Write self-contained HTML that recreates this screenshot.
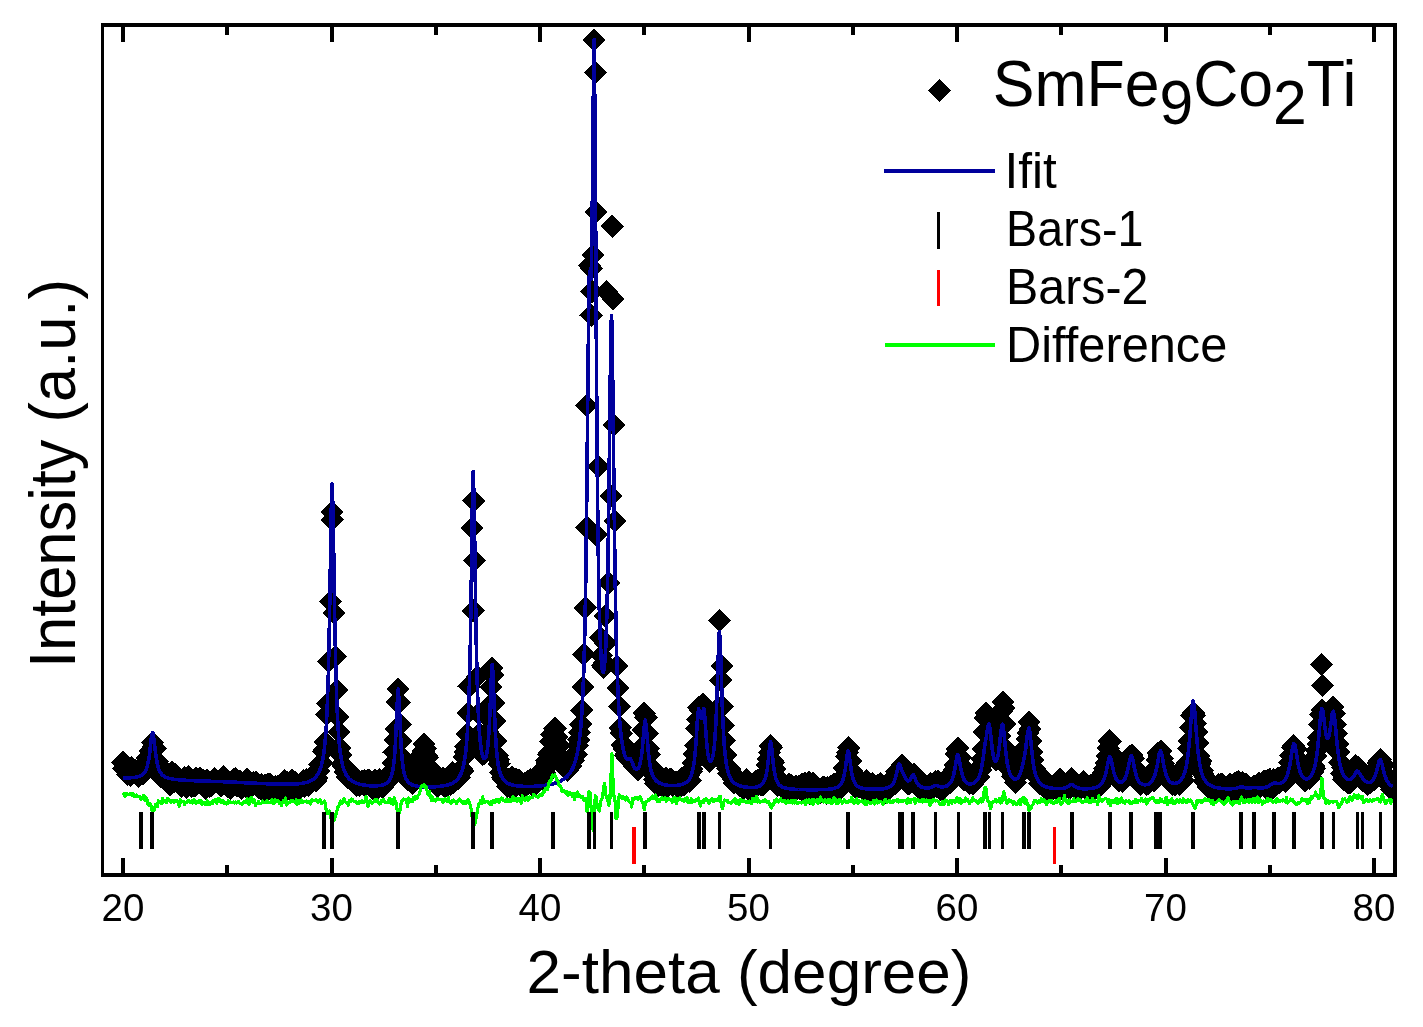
<!DOCTYPE html>
<html><head><meta charset="utf-8"><title>XRD</title>
<style>html,body{margin:0;padding:0;background:#fff;width:1423px;height:1027px;overflow:hidden}</style>
</head><body>
<svg width="1423" height="1027" viewBox="0 0 1423 1027" style="position:absolute;left:0;top:0;font-family:'Liberation Sans',sans-serif;will-change:transform" shape-rendering="crispEdges">
<rect width="1423" height="1027" fill="#fff"/>
<clipPath id="c"><rect x="104" y="27" width="1289" height="846"/></clipPath>
<path d="M123.0 750.9l11.6 11.6l-11.6 11.6l-11.6 -11.6zM124.0 757.0l11.6 11.6l-11.6 11.6l-11.6 -11.6zM125.1 755.3l11.6 11.6l-11.6 11.6l-11.6 -11.6zM126.1 757.0l11.6 11.6l-11.6 11.6l-11.6 -11.6zM127.2 762.9l11.6 11.6l-11.6 11.6l-11.6 -11.6zM128.2 757.9l11.6 11.6l-11.6 11.6l-11.6 -11.6zM129.3 759.2l11.6 11.6l-11.6 11.6l-11.6 -11.6zM130.3 764.0l11.6 11.6l-11.6 11.6l-11.6 -11.6zM131.3 756.1l11.6 11.6l-11.6 11.6l-11.6 -11.6zM132.4 756.9l11.6 11.6l-11.6 11.6l-11.6 -11.6zM133.4 761.0l11.6 11.6l-11.6 11.6l-11.6 -11.6zM134.5 759.6l11.6 11.6l-11.6 11.6l-11.6 -11.6zM135.5 759.4l11.6 11.6l-11.6 11.6l-11.6 -11.6zM136.6 760.0l11.6 11.6l-11.6 11.6l-11.6 -11.6zM137.6 761.9l11.6 11.6l-11.6 11.6l-11.6 -11.6zM138.6 764.8l11.6 11.6l-11.6 11.6l-11.6 -11.6zM139.7 756.4l11.6 11.6l-11.6 11.6l-11.6 -11.6zM140.7 759.3l11.6 11.6l-11.6 11.6l-11.6 -11.6zM141.8 760.2l11.6 11.6l-11.6 11.6l-11.6 -11.6zM142.8 762.3l11.6 11.6l-11.6 11.6l-11.6 -11.6zM143.9 752.2l11.6 11.6l-11.6 11.6l-11.6 -11.6zM144.9 755.6l11.6 11.6l-11.6 11.6l-11.6 -11.6zM145.9 756.5l11.6 11.6l-11.6 11.6l-11.6 -11.6zM147.0 746.4l11.6 11.6l-11.6 11.6l-11.6 -11.6zM148.0 749.8l11.6 11.6l-11.6 11.6l-11.6 -11.6zM149.1 749.8l11.6 11.6l-11.6 11.6l-11.6 -11.6zM150.1 739.2l11.6 11.6l-11.6 11.6l-11.6 -11.6zM151.1 740.8l11.6 11.6l-11.6 11.6l-11.6 -11.6zM152.2 730.9l11.6 11.6l-11.6 11.6l-11.6 -11.6zM153.2 735.6l11.6 11.6l-11.6 11.6l-11.6 -11.6zM154.3 736.9l11.6 11.6l-11.6 11.6l-11.6 -11.6zM155.3 737.1l11.6 11.6l-11.6 11.6l-11.6 -11.6zM156.4 752.1l11.6 11.6l-11.6 11.6l-11.6 -11.6zM157.4 749.9l11.6 11.6l-11.6 11.6l-11.6 -11.6zM158.4 760.4l11.6 11.6l-11.6 11.6l-11.6 -11.6zM159.5 759.4l11.6 11.6l-11.6 11.6l-11.6 -11.6zM160.5 764.6l11.6 11.6l-11.6 11.6l-11.6 -11.6zM161.6 756.4l11.6 11.6l-11.6 11.6l-11.6 -11.6zM162.6 757.3l11.6 11.6l-11.6 11.6l-11.6 -11.6zM163.7 765.1l11.6 11.6l-11.6 11.6l-11.6 -11.6zM164.7 762.1l11.6 11.6l-11.6 11.6l-11.6 -11.6zM165.7 765.3l11.6 11.6l-11.6 11.6l-11.6 -11.6zM166.8 763.2l11.6 11.6l-11.6 11.6l-11.6 -11.6zM167.8 768.6l11.6 11.6l-11.6 11.6l-11.6 -11.6zM168.9 771.9l11.6 11.6l-11.6 11.6l-11.6 -11.6zM169.9 773.2l11.6 11.6l-11.6 11.6l-11.6 -11.6zM171.0 766.3l11.6 11.6l-11.6 11.6l-11.6 -11.6zM172.0 760.8l11.6 11.6l-11.6 11.6l-11.6 -11.6zM173.0 768.2l11.6 11.6l-11.6 11.6l-11.6 -11.6zM174.1 770.6l11.6 11.6l-11.6 11.6l-11.6 -11.6zM175.1 762.9l11.6 11.6l-11.6 11.6l-11.6 -11.6zM176.2 769.3l11.6 11.6l-11.6 11.6l-11.6 -11.6zM177.2 769.5l11.6 11.6l-11.6 11.6l-11.6 -11.6zM178.3 768.9l11.6 11.6l-11.6 11.6l-11.6 -11.6zM179.3 770.9l11.6 11.6l-11.6 11.6l-11.6 -11.6zM180.3 771.1l11.6 11.6l-11.6 11.6l-11.6 -11.6zM181.4 774.6l11.6 11.6l-11.6 11.6l-11.6 -11.6zM182.4 768.4l11.6 11.6l-11.6 11.6l-11.6 -11.6zM183.5 771.0l11.6 11.6l-11.6 11.6l-11.6 -11.6zM184.5 766.4l11.6 11.6l-11.6 11.6l-11.6 -11.6zM185.6 771.5l11.6 11.6l-11.6 11.6l-11.6 -11.6zM186.6 775.8l11.6 11.6l-11.6 11.6l-11.6 -11.6zM187.6 770.6l11.6 11.6l-11.6 11.6l-11.6 -11.6zM188.7 765.3l11.6 11.6l-11.6 11.6l-11.6 -11.6zM189.7 771.8l11.6 11.6l-11.6 11.6l-11.6 -11.6zM190.8 773.9l11.6 11.6l-11.6 11.6l-11.6 -11.6zM191.8 774.8l11.6 11.6l-11.6 11.6l-11.6 -11.6zM192.8 774.4l11.6 11.6l-11.6 11.6l-11.6 -11.6zM193.9 771.9l11.6 11.6l-11.6 11.6l-11.6 -11.6zM194.9 774.5l11.6 11.6l-11.6 11.6l-11.6 -11.6zM196.0 766.7l11.6 11.6l-11.6 11.6l-11.6 -11.6zM197.0 772.0l11.6 11.6l-11.6 11.6l-11.6 -11.6zM198.1 771.0l11.6 11.6l-11.6 11.6l-11.6 -11.6zM199.1 767.0l11.6 11.6l-11.6 11.6l-11.6 -11.6zM200.1 766.3l11.6 11.6l-11.6 11.6l-11.6 -11.6zM201.2 771.9l11.6 11.6l-11.6 11.6l-11.6 -11.6zM202.2 770.0l11.6 11.6l-11.6 11.6l-11.6 -11.6zM203.3 768.9l11.6 11.6l-11.6 11.6l-11.6 -11.6zM204.3 772.1l11.6 11.6l-11.6 11.6l-11.6 -11.6zM205.4 777.2l11.6 11.6l-11.6 11.6l-11.6 -11.6zM206.4 769.1l11.6 11.6l-11.6 11.6l-11.6 -11.6zM207.4 768.8l11.6 11.6l-11.6 11.6l-11.6 -11.6zM208.5 770.4l11.6 11.6l-11.6 11.6l-11.6 -11.6zM209.5 774.4l11.6 11.6l-11.6 11.6l-11.6 -11.6zM210.6 772.2l11.6 11.6l-11.6 11.6l-11.6 -11.6zM211.6 773.6l11.6 11.6l-11.6 11.6l-11.6 -11.6zM212.7 772.7l11.6 11.6l-11.6 11.6l-11.6 -11.6zM213.7 767.7l11.6 11.6l-11.6 11.6l-11.6 -11.6zM214.7 767.0l11.6 11.6l-11.6 11.6l-11.6 -11.6zM215.8 769.6l11.6 11.6l-11.6 11.6l-11.6 -11.6zM216.8 770.2l11.6 11.6l-11.6 11.6l-11.6 -11.6zM217.9 769.8l11.6 11.6l-11.6 11.6l-11.6 -11.6zM218.9 771.9l11.6 11.6l-11.6 11.6l-11.6 -11.6zM220.0 772.1l11.6 11.6l-11.6 11.6l-11.6 -11.6zM221.0 773.9l11.6 11.6l-11.6 11.6l-11.6 -11.6zM222.0 772.2l11.6 11.6l-11.6 11.6l-11.6 -11.6zM223.1 765.0l11.6 11.6l-11.6 11.6l-11.6 -11.6zM224.1 769.4l11.6 11.6l-11.6 11.6l-11.6 -11.6zM225.2 773.0l11.6 11.6l-11.6 11.6l-11.6 -11.6zM226.2 773.7l11.6 11.6l-11.6 11.6l-11.6 -11.6zM227.3 774.8l11.6 11.6l-11.6 11.6l-11.6 -11.6zM228.3 771.1l11.6 11.6l-11.6 11.6l-11.6 -11.6zM229.3 771.0l11.6 11.6l-11.6 11.6l-11.6 -11.6zM230.4 776.7l11.6 11.6l-11.6 11.6l-11.6 -11.6zM231.4 771.0l11.6 11.6l-11.6 11.6l-11.6 -11.6zM232.5 774.2l11.6 11.6l-11.6 11.6l-11.6 -11.6zM233.5 768.2l11.6 11.6l-11.6 11.6l-11.6 -11.6zM234.5 772.0l11.6 11.6l-11.6 11.6l-11.6 -11.6zM235.6 767.3l11.6 11.6l-11.6 11.6l-11.6 -11.6zM236.6 774.1l11.6 11.6l-11.6 11.6l-11.6 -11.6zM237.7 773.6l11.6 11.6l-11.6 11.6l-11.6 -11.6zM238.7 771.8l11.6 11.6l-11.6 11.6l-11.6 -11.6zM239.8 769.5l11.6 11.6l-11.6 11.6l-11.6 -11.6zM240.8 771.0l11.6 11.6l-11.6 11.6l-11.6 -11.6zM241.8 776.8l11.6 11.6l-11.6 11.6l-11.6 -11.6zM242.9 772.4l11.6 11.6l-11.6 11.6l-11.6 -11.6zM243.9 772.9l11.6 11.6l-11.6 11.6l-11.6 -11.6zM245.0 774.4l11.6 11.6l-11.6 11.6l-11.6 -11.6zM246.0 775.1l11.6 11.6l-11.6 11.6l-11.6 -11.6zM247.1 767.8l11.6 11.6l-11.6 11.6l-11.6 -11.6zM248.1 774.5l11.6 11.6l-11.6 11.6l-11.6 -11.6zM249.1 775.9l11.6 11.6l-11.6 11.6l-11.6 -11.6zM250.2 771.3l11.6 11.6l-11.6 11.6l-11.6 -11.6zM251.2 773.0l11.6 11.6l-11.6 11.6l-11.6 -11.6zM252.3 773.6l11.6 11.6l-11.6 11.6l-11.6 -11.6zM253.3 771.0l11.6 11.6l-11.6 11.6l-11.6 -11.6zM254.4 772.0l11.6 11.6l-11.6 11.6l-11.6 -11.6zM255.4 772.4l11.6 11.6l-11.6 11.6l-11.6 -11.6zM256.4 770.6l11.6 11.6l-11.6 11.6l-11.6 -11.6zM257.5 772.8l11.6 11.6l-11.6 11.6l-11.6 -11.6zM258.5 775.6l11.6 11.6l-11.6 11.6l-11.6 -11.6zM259.6 774.9l11.6 11.6l-11.6 11.6l-11.6 -11.6zM260.6 775.5l11.6 11.6l-11.6 11.6l-11.6 -11.6zM261.7 773.2l11.6 11.6l-11.6 11.6l-11.6 -11.6zM262.7 777.2l11.6 11.6l-11.6 11.6l-11.6 -11.6zM263.7 779.5l11.6 11.6l-11.6 11.6l-11.6 -11.6zM264.8 773.7l11.6 11.6l-11.6 11.6l-11.6 -11.6zM265.8 778.2l11.6 11.6l-11.6 11.6l-11.6 -11.6zM266.9 779.7l11.6 11.6l-11.6 11.6l-11.6 -11.6zM267.9 772.9l11.6 11.6l-11.6 11.6l-11.6 -11.6zM269.0 776.4l11.6 11.6l-11.6 11.6l-11.6 -11.6zM270.0 772.6l11.6 11.6l-11.6 11.6l-11.6 -11.6zM271.0 775.8l11.6 11.6l-11.6 11.6l-11.6 -11.6zM272.1 777.7l11.6 11.6l-11.6 11.6l-11.6 -11.6zM273.1 778.1l11.6 11.6l-11.6 11.6l-11.6 -11.6zM274.2 775.9l11.6 11.6l-11.6 11.6l-11.6 -11.6zM275.2 775.2l11.6 11.6l-11.6 11.6l-11.6 -11.6zM276.2 776.9l11.6 11.6l-11.6 11.6l-11.6 -11.6zM277.3 775.2l11.6 11.6l-11.6 11.6l-11.6 -11.6zM278.3 779.2l11.6 11.6l-11.6 11.6l-11.6 -11.6zM279.4 774.4l11.6 11.6l-11.6 11.6l-11.6 -11.6zM280.4 780.0l11.6 11.6l-11.6 11.6l-11.6 -11.6zM281.5 775.1l11.6 11.6l-11.6 11.6l-11.6 -11.6zM282.5 772.3l11.6 11.6l-11.6 11.6l-11.6 -11.6zM283.5 771.1l11.6 11.6l-11.6 11.6l-11.6 -11.6zM284.6 769.2l11.6 11.6l-11.6 11.6l-11.6 -11.6zM285.6 779.3l11.6 11.6l-11.6 11.6l-11.6 -11.6zM286.7 772.2l11.6 11.6l-11.6 11.6l-11.6 -11.6zM287.7 770.8l11.6 11.6l-11.6 11.6l-11.6 -11.6zM288.8 771.5l11.6 11.6l-11.6 11.6l-11.6 -11.6zM289.8 777.4l11.6 11.6l-11.6 11.6l-11.6 -11.6zM290.8 773.2l11.6 11.6l-11.6 11.6l-11.6 -11.6zM291.9 768.7l11.6 11.6l-11.6 11.6l-11.6 -11.6zM292.9 779.1l11.6 11.6l-11.6 11.6l-11.6 -11.6zM294.0 772.9l11.6 11.6l-11.6 11.6l-11.6 -11.6zM295.0 770.9l11.6 11.6l-11.6 11.6l-11.6 -11.6zM296.1 776.4l11.6 11.6l-11.6 11.6l-11.6 -11.6zM297.1 772.4l11.6 11.6l-11.6 11.6l-11.6 -11.6zM298.1 777.4l11.6 11.6l-11.6 11.6l-11.6 -11.6zM299.2 776.3l11.6 11.6l-11.6 11.6l-11.6 -11.6zM300.2 776.0l11.6 11.6l-11.6 11.6l-11.6 -11.6zM301.3 772.5l11.6 11.6l-11.6 11.6l-11.6 -11.6zM302.3 773.0l11.6 11.6l-11.6 11.6l-11.6 -11.6zM303.4 769.4l11.6 11.6l-11.6 11.6l-11.6 -11.6zM304.4 774.9l11.6 11.6l-11.6 11.6l-11.6 -11.6zM305.4 771.9l11.6 11.6l-11.6 11.6l-11.6 -11.6zM306.5 768.1l11.6 11.6l-11.6 11.6l-11.6 -11.6zM307.5 768.8l11.6 11.6l-11.6 11.6l-11.6 -11.6zM308.6 774.1l11.6 11.6l-11.6 11.6l-11.6 -11.6zM309.6 767.3l11.6 11.6l-11.6 11.6l-11.6 -11.6zM310.7 770.2l11.6 11.6l-11.6 11.6l-11.6 -11.6zM311.7 766.7l11.6 11.6l-11.6 11.6l-11.6 -11.6zM312.7 766.2l11.6 11.6l-11.6 11.6l-11.6 -11.6zM313.8 762.4l11.6 11.6l-11.6 11.6l-11.6 -11.6zM314.8 764.6l11.6 11.6l-11.6 11.6l-11.6 -11.6zM315.9 769.5l11.6 11.6l-11.6 11.6l-11.6 -11.6zM316.9 766.8l11.6 11.6l-11.6 11.6l-11.6 -11.6zM317.9 758.7l11.6 11.6l-11.6 11.6l-11.6 -11.6zM319.0 759.7l11.6 11.6l-11.6 11.6l-11.6 -11.6zM320.0 752.9l11.6 11.6l-11.6 11.6l-11.6 -11.6zM321.1 752.3l11.6 11.6l-11.6 11.6l-11.6 -11.6zM322.1 751.3l11.6 11.6l-11.6 11.6l-11.6 -11.6zM323.2 740.0l11.6 11.6l-11.6 11.6l-11.6 -11.6zM324.2 738.3l11.6 11.6l-11.6 11.6l-11.6 -11.6zM325.2 730.6l11.6 11.6l-11.6 11.6l-11.6 -11.6zM326.3 703.0l11.6 11.6l-11.6 11.6l-11.6 -11.6zM327.3 691.8l11.6 11.6l-11.6 11.6l-11.6 -11.6zM328.4 649.9l11.6 11.6l-11.6 11.6l-11.6 -11.6zM335.7 644.9l11.6 11.6l-11.6 11.6l-11.6 -11.6zM336.7 678.4l11.6 11.6l-11.6 11.6l-11.6 -11.6zM337.8 705.1l11.6 11.6l-11.6 11.6l-11.6 -11.6zM338.8 720.5l11.6 11.6l-11.6 11.6l-11.6 -11.6zM339.8 736.1l11.6 11.6l-11.6 11.6l-11.6 -11.6zM340.9 743.4l11.6 11.6l-11.6 11.6l-11.6 -11.6zM341.9 752.4l11.6 11.6l-11.6 11.6l-11.6 -11.6zM343.0 754.3l11.6 11.6l-11.6 11.6l-11.6 -11.6zM344.0 754.9l11.6 11.6l-11.6 11.6l-11.6 -11.6zM345.1 760.3l11.6 11.6l-11.6 11.6l-11.6 -11.6zM346.1 760.0l11.6 11.6l-11.6 11.6l-11.6 -11.6zM347.1 765.0l11.6 11.6l-11.6 11.6l-11.6 -11.6zM348.2 766.4l11.6 11.6l-11.6 11.6l-11.6 -11.6zM349.2 765.6l11.6 11.6l-11.6 11.6l-11.6 -11.6zM350.3 767.3l11.6 11.6l-11.6 11.6l-11.6 -11.6zM351.3 765.7l11.6 11.6l-11.6 11.6l-11.6 -11.6zM352.4 767.7l11.6 11.6l-11.6 11.6l-11.6 -11.6zM353.4 763.5l11.6 11.6l-11.6 11.6l-11.6 -11.6zM354.4 770.1l11.6 11.6l-11.6 11.6l-11.6 -11.6zM355.5 770.5l11.6 11.6l-11.6 11.6l-11.6 -11.6zM356.5 773.5l11.6 11.6l-11.6 11.6l-11.6 -11.6zM357.6 770.5l11.6 11.6l-11.6 11.6l-11.6 -11.6zM358.6 768.8l11.6 11.6l-11.6 11.6l-11.6 -11.6zM359.6 773.5l11.6 11.6l-11.6 11.6l-11.6 -11.6zM360.7 771.6l11.6 11.6l-11.6 11.6l-11.6 -11.6zM361.7 769.4l11.6 11.6l-11.6 11.6l-11.6 -11.6zM362.8 772.2l11.6 11.6l-11.6 11.6l-11.6 -11.6zM363.8 773.6l11.6 11.6l-11.6 11.6l-11.6 -11.6zM364.9 769.1l11.6 11.6l-11.6 11.6l-11.6 -11.6zM365.9 772.0l11.6 11.6l-11.6 11.6l-11.6 -11.6zM366.9 771.1l11.6 11.6l-11.6 11.6l-11.6 -11.6zM368.0 768.8l11.6 11.6l-11.6 11.6l-11.6 -11.6zM369.0 769.0l11.6 11.6l-11.6 11.6l-11.6 -11.6zM370.1 773.7l11.6 11.6l-11.6 11.6l-11.6 -11.6zM371.1 774.3l11.6 11.6l-11.6 11.6l-11.6 -11.6zM372.2 771.8l11.6 11.6l-11.6 11.6l-11.6 -11.6zM373.2 773.1l11.6 11.6l-11.6 11.6l-11.6 -11.6zM374.2 778.3l11.6 11.6l-11.6 11.6l-11.6 -11.6zM375.3 768.7l11.6 11.6l-11.6 11.6l-11.6 -11.6zM376.3 772.5l11.6 11.6l-11.6 11.6l-11.6 -11.6zM377.4 770.2l11.6 11.6l-11.6 11.6l-11.6 -11.6zM378.4 776.0l11.6 11.6l-11.6 11.6l-11.6 -11.6zM379.5 768.2l11.6 11.6l-11.6 11.6l-11.6 -11.6zM380.5 773.9l11.6 11.6l-11.6 11.6l-11.6 -11.6zM381.5 772.2l11.6 11.6l-11.6 11.6l-11.6 -11.6zM382.6 775.9l11.6 11.6l-11.6 11.6l-11.6 -11.6zM383.6 771.7l11.6 11.6l-11.6 11.6l-11.6 -11.6zM384.7 771.4l11.6 11.6l-11.6 11.6l-11.6 -11.6zM385.7 770.7l11.6 11.6l-11.6 11.6l-11.6 -11.6zM386.8 768.1l11.6 11.6l-11.6 11.6l-11.6 -11.6zM387.8 768.3l11.6 11.6l-11.6 11.6l-11.6 -11.6zM388.8 764.2l11.6 11.6l-11.6 11.6l-11.6 -11.6zM389.9 766.9l11.6 11.6l-11.6 11.6l-11.6 -11.6zM390.9 766.0l11.6 11.6l-11.6 11.6l-11.6 -11.6zM392.0 759.3l11.6 11.6l-11.6 11.6l-11.6 -11.6zM393.0 751.7l11.6 11.6l-11.6 11.6l-11.6 -11.6zM394.1 740.9l11.6 11.6l-11.6 11.6l-11.6 -11.6zM395.1 728.4l11.6 11.6l-11.6 11.6l-11.6 -11.6zM396.1 717.2l11.6 11.6l-11.6 11.6l-11.6 -11.6zM397.2 690.4l11.6 11.6l-11.6 11.6l-11.6 -11.6zM398.2 677.4l11.6 11.6l-11.6 11.6l-11.6 -11.6zM399.3 691.2l11.6 11.6l-11.6 11.6l-11.6 -11.6zM400.3 713.0l11.6 11.6l-11.6 11.6l-11.6 -11.6zM401.3 729.5l11.6 11.6l-11.6 11.6l-11.6 -11.6zM402.4 745.6l11.6 11.6l-11.6 11.6l-11.6 -11.6zM403.4 750.7l11.6 11.6l-11.6 11.6l-11.6 -11.6zM404.5 758.2l11.6 11.6l-11.6 11.6l-11.6 -11.6zM405.5 757.2l11.6 11.6l-11.6 11.6l-11.6 -11.6zM406.6 762.2l11.6 11.6l-11.6 11.6l-11.6 -11.6zM407.6 767.5l11.6 11.6l-11.6 11.6l-11.6 -11.6zM408.6 764.2l11.6 11.6l-11.6 11.6l-11.6 -11.6zM409.7 763.7l11.6 11.6l-11.6 11.6l-11.6 -11.6zM410.7 768.6l11.6 11.6l-11.6 11.6l-11.6 -11.6zM411.8 768.0l11.6 11.6l-11.6 11.6l-11.6 -11.6zM412.8 771.9l11.6 11.6l-11.6 11.6l-11.6 -11.6zM413.9 762.9l11.6 11.6l-11.6 11.6l-11.6 -11.6zM414.9 766.5l11.6 11.6l-11.6 11.6l-11.6 -11.6zM415.9 768.8l11.6 11.6l-11.6 11.6l-11.6 -11.6zM417.0 766.7l11.6 11.6l-11.6 11.6l-11.6 -11.6zM418.0 759.1l11.6 11.6l-11.6 11.6l-11.6 -11.6zM419.1 752.5l11.6 11.6l-11.6 11.6l-11.6 -11.6zM420.1 750.5l11.6 11.6l-11.6 11.6l-11.6 -11.6zM421.2 743.3l11.6 11.6l-11.6 11.6l-11.6 -11.6zM422.2 742.7l11.6 11.6l-11.6 11.6l-11.6 -11.6zM423.2 739.7l11.6 11.6l-11.6 11.6l-11.6 -11.6zM424.3 732.4l11.6 11.6l-11.6 11.6l-11.6 -11.6zM425.3 737.0l11.6 11.6l-11.6 11.6l-11.6 -11.6zM426.4 744.0l11.6 11.6l-11.6 11.6l-11.6 -11.6zM427.4 745.5l11.6 11.6l-11.6 11.6l-11.6 -11.6zM428.5 757.4l11.6 11.6l-11.6 11.6l-11.6 -11.6zM429.5 759.7l11.6 11.6l-11.6 11.6l-11.6 -11.6zM430.5 758.2l11.6 11.6l-11.6 11.6l-11.6 -11.6zM431.6 758.0l11.6 11.6l-11.6 11.6l-11.6 -11.6zM432.6 765.4l11.6 11.6l-11.6 11.6l-11.6 -11.6zM433.7 761.6l11.6 11.6l-11.6 11.6l-11.6 -11.6zM434.7 769.7l11.6 11.6l-11.6 11.6l-11.6 -11.6zM435.8 767.6l11.6 11.6l-11.6 11.6l-11.6 -11.6zM436.8 769.8l11.6 11.6l-11.6 11.6l-11.6 -11.6zM437.8 774.7l11.6 11.6l-11.6 11.6l-11.6 -11.6zM438.9 769.3l11.6 11.6l-11.6 11.6l-11.6 -11.6zM439.9 767.5l11.6 11.6l-11.6 11.6l-11.6 -11.6zM441.0 771.0l11.6 11.6l-11.6 11.6l-11.6 -11.6zM442.0 770.9l11.6 11.6l-11.6 11.6l-11.6 -11.6zM443.0 766.5l11.6 11.6l-11.6 11.6l-11.6 -11.6zM444.1 774.7l11.6 11.6l-11.6 11.6l-11.6 -11.6zM445.1 775.4l11.6 11.6l-11.6 11.6l-11.6 -11.6zM446.2 772.7l11.6 11.6l-11.6 11.6l-11.6 -11.6zM447.2 774.3l11.6 11.6l-11.6 11.6l-11.6 -11.6zM448.3 766.3l11.6 11.6l-11.6 11.6l-11.6 -11.6zM449.3 769.2l11.6 11.6l-11.6 11.6l-11.6 -11.6zM450.3 772.6l11.6 11.6l-11.6 11.6l-11.6 -11.6zM451.4 771.5l11.6 11.6l-11.6 11.6l-11.6 -11.6zM452.4 760.8l11.6 11.6l-11.6 11.6l-11.6 -11.6zM453.5 770.5l11.6 11.6l-11.6 11.6l-11.6 -11.6zM454.5 770.3l11.6 11.6l-11.6 11.6l-11.6 -11.6zM455.6 766.3l11.6 11.6l-11.6 11.6l-11.6 -11.6zM456.6 764.4l11.6 11.6l-11.6 11.6l-11.6 -11.6zM457.6 764.5l11.6 11.6l-11.6 11.6l-11.6 -11.6zM458.7 766.7l11.6 11.6l-11.6 11.6l-11.6 -11.6zM459.7 765.8l11.6 11.6l-11.6 11.6l-11.6 -11.6zM460.8 758.2l11.6 11.6l-11.6 11.6l-11.6 -11.6zM461.8 757.6l11.6 11.6l-11.6 11.6l-11.6 -11.6zM462.9 759.0l11.6 11.6l-11.6 11.6l-11.6 -11.6zM463.9 745.7l11.6 11.6l-11.6 11.6l-11.6 -11.6zM464.9 740.6l11.6 11.6l-11.6 11.6l-11.6 -11.6zM466.0 734.9l11.6 11.6l-11.6 11.6l-11.6 -11.6zM467.0 722.1l11.6 11.6l-11.6 11.6l-11.6 -11.6zM468.1 701.4l11.6 11.6l-11.6 11.6l-11.6 -11.6zM469.1 674.9l11.6 11.6l-11.6 11.6l-11.6 -11.6zM477.5 664.9l11.6 11.6l-11.6 11.6l-11.6 -11.6zM478.5 702.3l11.6 11.6l-11.6 11.6l-11.6 -11.6zM479.5 721.8l11.6 11.6l-11.6 11.6l-11.6 -11.6zM480.6 731.1l11.6 11.6l-11.6 11.6l-11.6 -11.6zM481.6 740.1l11.6 11.6l-11.6 11.6l-11.6 -11.6zM482.7 743.0l11.6 11.6l-11.6 11.6l-11.6 -11.6zM483.7 742.2l11.6 11.6l-11.6 11.6l-11.6 -11.6zM484.7 741.3l11.6 11.6l-11.6 11.6l-11.6 -11.6zM485.8 736.6l11.6 11.6l-11.6 11.6l-11.6 -11.6zM486.8 739.3l11.6 11.6l-11.6 11.6l-11.6 -11.6zM487.9 720.0l11.6 11.6l-11.6 11.6l-11.6 -11.6zM488.9 707.4l11.6 11.6l-11.6 11.6l-11.6 -11.6zM490.0 693.3l11.6 11.6l-11.6 11.6l-11.6 -11.6zM491.0 675.3l11.6 11.6l-11.6 11.6l-11.6 -11.6zM492.0 656.5l11.6 11.6l-11.6 11.6l-11.6 -11.6zM493.1 663.2l11.6 11.6l-11.6 11.6l-11.6 -11.6zM494.1 691.3l11.6 11.6l-11.6 11.6l-11.6 -11.6zM495.2 709.6l11.6 11.6l-11.6 11.6l-11.6 -11.6zM496.2 729.3l11.6 11.6l-11.6 11.6l-11.6 -11.6zM497.3 743.9l11.6 11.6l-11.6 11.6l-11.6 -11.6zM498.3 747.9l11.6 11.6l-11.6 11.6l-11.6 -11.6zM499.3 752.3l11.6 11.6l-11.6 11.6l-11.6 -11.6zM500.4 760.8l11.6 11.6l-11.6 11.6l-11.6 -11.6zM501.4 761.4l11.6 11.6l-11.6 11.6l-11.6 -11.6zM502.5 766.2l11.6 11.6l-11.6 11.6l-11.6 -11.6zM503.5 768.1l11.6 11.6l-11.6 11.6l-11.6 -11.6zM504.6 766.7l11.6 11.6l-11.6 11.6l-11.6 -11.6zM505.6 766.2l11.6 11.6l-11.6 11.6l-11.6 -11.6zM506.6 770.4l11.6 11.6l-11.6 11.6l-11.6 -11.6zM507.7 774.8l11.6 11.6l-11.6 11.6l-11.6 -11.6zM508.7 767.9l11.6 11.6l-11.6 11.6l-11.6 -11.6zM509.8 775.1l11.6 11.6l-11.6 11.6l-11.6 -11.6zM510.8 770.1l11.6 11.6l-11.6 11.6l-11.6 -11.6zM511.9 765.2l11.6 11.6l-11.6 11.6l-11.6 -11.6zM512.9 771.0l11.6 11.6l-11.6 11.6l-11.6 -11.6zM513.9 774.8l11.6 11.6l-11.6 11.6l-11.6 -11.6zM515.0 775.8l11.6 11.6l-11.6 11.6l-11.6 -11.6zM516.0 767.8l11.6 11.6l-11.6 11.6l-11.6 -11.6zM517.1 771.6l11.6 11.6l-11.6 11.6l-11.6 -11.6zM518.1 769.9l11.6 11.6l-11.6 11.6l-11.6 -11.6zM519.2 768.7l11.6 11.6l-11.6 11.6l-11.6 -11.6zM520.2 771.8l11.6 11.6l-11.6 11.6l-11.6 -11.6zM521.2 772.5l11.6 11.6l-11.6 11.6l-11.6 -11.6zM522.3 774.5l11.6 11.6l-11.6 11.6l-11.6 -11.6zM523.3 777.1l11.6 11.6l-11.6 11.6l-11.6 -11.6zM524.4 776.1l11.6 11.6l-11.6 11.6l-11.6 -11.6zM525.4 771.5l11.6 11.6l-11.6 11.6l-11.6 -11.6zM526.4 771.7l11.6 11.6l-11.6 11.6l-11.6 -11.6zM527.5 769.8l11.6 11.6l-11.6 11.6l-11.6 -11.6zM528.5 771.2l11.6 11.6l-11.6 11.6l-11.6 -11.6zM529.6 770.1l11.6 11.6l-11.6 11.6l-11.6 -11.6zM530.6 767.9l11.6 11.6l-11.6 11.6l-11.6 -11.6zM531.7 772.8l11.6 11.6l-11.6 11.6l-11.6 -11.6zM532.7 770.6l11.6 11.6l-11.6 11.6l-11.6 -11.6zM533.7 774.3l11.6 11.6l-11.6 11.6l-11.6 -11.6zM534.8 765.8l11.6 11.6l-11.6 11.6l-11.6 -11.6zM535.8 768.2l11.6 11.6l-11.6 11.6l-11.6 -11.6zM536.9 766.2l11.6 11.6l-11.6 11.6l-11.6 -11.6zM537.9 762.2l11.6 11.6l-11.6 11.6l-11.6 -11.6zM539.0 762.8l11.6 11.6l-11.6 11.6l-11.6 -11.6zM540.0 765.4l11.6 11.6l-11.6 11.6l-11.6 -11.6zM541.0 761.6l11.6 11.6l-11.6 11.6l-11.6 -11.6zM542.1 767.0l11.6 11.6l-11.6 11.6l-11.6 -11.6zM543.1 759.6l11.6 11.6l-11.6 11.6l-11.6 -11.6zM544.2 758.4l11.6 11.6l-11.6 11.6l-11.6 -11.6zM545.2 761.4l11.6 11.6l-11.6 11.6l-11.6 -11.6zM546.3 749.1l11.6 11.6l-11.6 11.6l-11.6 -11.6zM547.3 751.7l11.6 11.6l-11.6 11.6l-11.6 -11.6zM548.3 742.8l11.6 11.6l-11.6 11.6l-11.6 -11.6zM549.4 740.8l11.6 11.6l-11.6 11.6l-11.6 -11.6zM550.4 730.2l11.6 11.6l-11.6 11.6l-11.6 -11.6zM551.5 722.8l11.6 11.6l-11.6 11.6l-11.6 -11.6zM552.5 723.7l11.6 11.6l-11.6 11.6l-11.6 -11.6zM553.6 722.1l11.6 11.6l-11.6 11.6l-11.6 -11.6zM554.6 717.2l11.6 11.6l-11.6 11.6l-11.6 -11.6zM555.6 716.7l11.6 11.6l-11.6 11.6l-11.6 -11.6zM556.7 725.3l11.6 11.6l-11.6 11.6l-11.6 -11.6zM557.7 731.9l11.6 11.6l-11.6 11.6l-11.6 -11.6zM558.8 734.1l11.6 11.6l-11.6 11.6l-11.6 -11.6zM559.8 746.1l11.6 11.6l-11.6 11.6l-11.6 -11.6zM560.9 746.7l11.6 11.6l-11.6 11.6l-11.6 -11.6zM561.9 752.1l11.6 11.6l-11.6 11.6l-11.6 -11.6zM562.9 749.3l11.6 11.6l-11.6 11.6l-11.6 -11.6zM564.0 754.2l11.6 11.6l-11.6 11.6l-11.6 -11.6zM565.0 756.6l11.6 11.6l-11.6 11.6l-11.6 -11.6zM566.1 755.0l11.6 11.6l-11.6 11.6l-11.6 -11.6zM567.1 758.9l11.6 11.6l-11.6 11.6l-11.6 -11.6zM568.1 754.3l11.6 11.6l-11.6 11.6l-11.6 -11.6zM569.2 756.1l11.6 11.6l-11.6 11.6l-11.6 -11.6zM570.2 754.4l11.6 11.6l-11.6 11.6l-11.6 -11.6zM571.3 754.5l11.6 11.6l-11.6 11.6l-11.6 -11.6zM572.3 748.0l11.6 11.6l-11.6 11.6l-11.6 -11.6zM573.4 749.3l11.6 11.6l-11.6 11.6l-11.6 -11.6zM574.4 745.0l11.6 11.6l-11.6 11.6l-11.6 -11.6zM575.4 742.3l11.6 11.6l-11.6 11.6l-11.6 -11.6zM576.5 742.6l11.6 11.6l-11.6 11.6l-11.6 -11.6zM577.5 733.6l11.6 11.6l-11.6 11.6l-11.6 -11.6zM578.6 728.3l11.6 11.6l-11.6 11.6l-11.6 -11.6zM579.6 720.7l11.6 11.6l-11.6 11.6l-11.6 -11.6zM580.7 712.6l11.6 11.6l-11.6 11.6l-11.6 -11.6zM581.7 698.7l11.6 11.6l-11.6 11.6l-11.6 -11.6zM582.7 675.4l11.6 11.6l-11.6 11.6l-11.6 -11.6zM583.8 642.7l11.6 11.6l-11.6 11.6l-11.6 -11.6zM600.5 625.9l11.6 11.6l-11.6 11.6l-11.6 -11.6zM601.5 643.8l11.6 11.6l-11.6 11.6l-11.6 -11.6zM602.6 653.9l11.6 11.6l-11.6 11.6l-11.6 -11.6zM603.6 655.6l11.6 11.6l-11.6 11.6l-11.6 -11.6zM604.6 650.9l11.6 11.6l-11.6 11.6l-11.6 -11.6zM605.7 631.7l11.6 11.6l-11.6 11.6l-11.6 -11.6zM617.1 654.5l11.6 11.6l-11.6 11.6l-11.6 -11.6zM618.2 676.4l11.6 11.6l-11.6 11.6l-11.6 -11.6zM619.2 695.0l11.6 11.6l-11.6 11.6l-11.6 -11.6zM620.3 716.3l11.6 11.6l-11.6 11.6l-11.6 -11.6zM621.3 721.6l11.6 11.6l-11.6 11.6l-11.6 -11.6zM622.4 733.6l11.6 11.6l-11.6 11.6l-11.6 -11.6zM623.4 732.9l11.6 11.6l-11.6 11.6l-11.6 -11.6zM624.4 737.6l11.6 11.6l-11.6 11.6l-11.6 -11.6zM625.5 744.0l11.6 11.6l-11.6 11.6l-11.6 -11.6zM626.5 742.0l11.6 11.6l-11.6 11.6l-11.6 -11.6zM627.6 747.3l11.6 11.6l-11.6 11.6l-11.6 -11.6zM628.6 747.9l11.6 11.6l-11.6 11.6l-11.6 -11.6zM629.7 747.6l11.6 11.6l-11.6 11.6l-11.6 -11.6zM630.7 746.8l11.6 11.6l-11.6 11.6l-11.6 -11.6zM631.7 749.0l11.6 11.6l-11.6 11.6l-11.6 -11.6zM632.8 749.9l11.6 11.6l-11.6 11.6l-11.6 -11.6zM633.8 754.6l11.6 11.6l-11.6 11.6l-11.6 -11.6zM634.9 752.0l11.6 11.6l-11.6 11.6l-11.6 -11.6zM635.9 752.0l11.6 11.6l-11.6 11.6l-11.6 -11.6zM637.0 756.7l11.6 11.6l-11.6 11.6l-11.6 -11.6zM638.0 758.5l11.6 11.6l-11.6 11.6l-11.6 -11.6zM639.0 749.5l11.6 11.6l-11.6 11.6l-11.6 -11.6zM640.1 744.3l11.6 11.6l-11.6 11.6l-11.6 -11.6zM641.1 741.9l11.6 11.6l-11.6 11.6l-11.6 -11.6zM642.2 735.8l11.6 11.6l-11.6 11.6l-11.6 -11.6zM643.2 718.5l11.6 11.6l-11.6 11.6l-11.6 -11.6zM644.3 701.7l11.6 11.6l-11.6 11.6l-11.6 -11.6zM645.3 705.9l11.6 11.6l-11.6 11.6l-11.6 -11.6zM646.3 705.7l11.6 11.6l-11.6 11.6l-11.6 -11.6zM647.4 721.9l11.6 11.6l-11.6 11.6l-11.6 -11.6zM648.4 737.0l11.6 11.6l-11.6 11.6l-11.6 -11.6zM649.5 743.2l11.6 11.6l-11.6 11.6l-11.6 -11.6zM650.5 756.2l11.6 11.6l-11.6 11.6l-11.6 -11.6zM651.5 756.3l11.6 11.6l-11.6 11.6l-11.6 -11.6zM652.6 756.8l11.6 11.6l-11.6 11.6l-11.6 -11.6zM653.6 762.8l11.6 11.6l-11.6 11.6l-11.6 -11.6zM654.7 768.0l11.6 11.6l-11.6 11.6l-11.6 -11.6zM655.7 772.2l11.6 11.6l-11.6 11.6l-11.6 -11.6zM656.8 771.7l11.6 11.6l-11.6 11.6l-11.6 -11.6zM657.8 774.2l11.6 11.6l-11.6 11.6l-11.6 -11.6zM658.8 764.4l11.6 11.6l-11.6 11.6l-11.6 -11.6zM659.9 770.7l11.6 11.6l-11.6 11.6l-11.6 -11.6zM660.9 773.6l11.6 11.6l-11.6 11.6l-11.6 -11.6zM662.0 774.8l11.6 11.6l-11.6 11.6l-11.6 -11.6zM663.0 774.4l11.6 11.6l-11.6 11.6l-11.6 -11.6zM664.1 772.4l11.6 11.6l-11.6 11.6l-11.6 -11.6zM665.1 775.6l11.6 11.6l-11.6 11.6l-11.6 -11.6zM666.1 766.6l11.6 11.6l-11.6 11.6l-11.6 -11.6zM667.2 774.3l11.6 11.6l-11.6 11.6l-11.6 -11.6zM668.2 774.5l11.6 11.6l-11.6 11.6l-11.6 -11.6zM669.3 771.2l11.6 11.6l-11.6 11.6l-11.6 -11.6zM670.3 767.7l11.6 11.6l-11.6 11.6l-11.6 -11.6zM671.4 768.2l11.6 11.6l-11.6 11.6l-11.6 -11.6zM672.4 773.8l11.6 11.6l-11.6 11.6l-11.6 -11.6zM673.4 771.5l11.6 11.6l-11.6 11.6l-11.6 -11.6zM674.5 771.8l11.6 11.6l-11.6 11.6l-11.6 -11.6zM675.5 770.6l11.6 11.6l-11.6 11.6l-11.6 -11.6zM676.6 771.3l11.6 11.6l-11.6 11.6l-11.6 -11.6zM677.6 774.9l11.6 11.6l-11.6 11.6l-11.6 -11.6zM678.7 775.8l11.6 11.6l-11.6 11.6l-11.6 -11.6zM679.7 771.1l11.6 11.6l-11.6 11.6l-11.6 -11.6zM680.7 775.1l11.6 11.6l-11.6 11.6l-11.6 -11.6zM681.8 766.9l11.6 11.6l-11.6 11.6l-11.6 -11.6zM682.8 770.6l11.6 11.6l-11.6 11.6l-11.6 -11.6zM683.9 773.4l11.6 11.6l-11.6 11.6l-11.6 -11.6zM684.9 770.7l11.6 11.6l-11.6 11.6l-11.6 -11.6zM686.0 770.5l11.6 11.6l-11.6 11.6l-11.6 -11.6zM687.0 768.5l11.6 11.6l-11.6 11.6l-11.6 -11.6zM688.0 764.0l11.6 11.6l-11.6 11.6l-11.6 -11.6zM689.1 769.9l11.6 11.6l-11.6 11.6l-11.6 -11.6zM690.1 769.1l11.6 11.6l-11.6 11.6l-11.6 -11.6zM691.2 759.7l11.6 11.6l-11.6 11.6l-11.6 -11.6zM692.2 757.6l11.6 11.6l-11.6 11.6l-11.6 -11.6zM693.2 751.3l11.6 11.6l-11.6 11.6l-11.6 -11.6zM694.3 742.7l11.6 11.6l-11.6 11.6l-11.6 -11.6zM695.3 733.8l11.6 11.6l-11.6 11.6l-11.6 -11.6zM696.4 716.9l11.6 11.6l-11.6 11.6l-11.6 -11.6zM697.4 708.1l11.6 11.6l-11.6 11.6l-11.6 -11.6zM698.5 695.7l11.6 11.6l-11.6 11.6l-11.6 -11.6zM699.5 696.2l11.6 11.6l-11.6 11.6l-11.6 -11.6zM700.5 698.8l11.6 11.6l-11.6 11.6l-11.6 -11.6zM701.6 693.9l11.6 11.6l-11.6 11.6l-11.6 -11.6zM702.6 692.6l11.6 11.6l-11.6 11.6l-11.6 -11.6zM703.7 700.7l11.6 11.6l-11.6 11.6l-11.6 -11.6zM704.7 705.7l11.6 11.6l-11.6 11.6l-11.6 -11.6zM705.8 713.4l11.6 11.6l-11.6 11.6l-11.6 -11.6zM706.8 723.5l11.6 11.6l-11.6 11.6l-11.6 -11.6zM707.8 738.5l11.6 11.6l-11.6 11.6l-11.6 -11.6zM708.9 743.1l11.6 11.6l-11.6 11.6l-11.6 -11.6zM709.9 749.9l11.6 11.6l-11.6 11.6l-11.6 -11.6zM711.0 738.3l11.6 11.6l-11.6 11.6l-11.6 -11.6zM712.0 742.9l11.6 11.6l-11.6 11.6l-11.6 -11.6zM713.1 737.2l11.6 11.6l-11.6 11.6l-11.6 -11.6zM714.1 730.1l11.6 11.6l-11.6 11.6l-11.6 -11.6zM715.1 716.4l11.6 11.6l-11.6 11.6l-11.6 -11.6zM716.2 698.1l11.6 11.6l-11.6 11.6l-11.6 -11.6zM722.4 694.6l11.6 11.6l-11.6 11.6l-11.6 -11.6zM723.5 714.2l11.6 11.6l-11.6 11.6l-11.6 -11.6zM724.5 728.8l11.6 11.6l-11.6 11.6l-11.6 -11.6zM725.6 743.4l11.6 11.6l-11.6 11.6l-11.6 -11.6zM726.6 753.7l11.6 11.6l-11.6 11.6l-11.6 -11.6zM727.7 757.1l11.6 11.6l-11.6 11.6l-11.6 -11.6zM728.7 762.1l11.6 11.6l-11.6 11.6l-11.6 -11.6zM729.7 757.5l11.6 11.6l-11.6 11.6l-11.6 -11.6zM730.8 762.7l11.6 11.6l-11.6 11.6l-11.6 -11.6zM731.8 763.3l11.6 11.6l-11.6 11.6l-11.6 -11.6zM732.9 767.5l11.6 11.6l-11.6 11.6l-11.6 -11.6zM733.9 771.3l11.6 11.6l-11.6 11.6l-11.6 -11.6zM734.9 766.8l11.6 11.6l-11.6 11.6l-11.6 -11.6zM736.0 766.0l11.6 11.6l-11.6 11.6l-11.6 -11.6zM737.0 769.9l11.6 11.6l-11.6 11.6l-11.6 -11.6zM738.1 772.3l11.6 11.6l-11.6 11.6l-11.6 -11.6zM739.1 769.3l11.6 11.6l-11.6 11.6l-11.6 -11.6zM740.2 774.1l11.6 11.6l-11.6 11.6l-11.6 -11.6zM741.2 770.9l11.6 11.6l-11.6 11.6l-11.6 -11.6zM742.2 775.7l11.6 11.6l-11.6 11.6l-11.6 -11.6zM743.3 776.8l11.6 11.6l-11.6 11.6l-11.6 -11.6zM744.3 772.2l11.6 11.6l-11.6 11.6l-11.6 -11.6zM745.4 773.1l11.6 11.6l-11.6 11.6l-11.6 -11.6zM746.4 768.3l11.6 11.6l-11.6 11.6l-11.6 -11.6zM747.5 775.2l11.6 11.6l-11.6 11.6l-11.6 -11.6zM748.5 774.4l11.6 11.6l-11.6 11.6l-11.6 -11.6zM749.5 778.0l11.6 11.6l-11.6 11.6l-11.6 -11.6zM750.6 780.1l11.6 11.6l-11.6 11.6l-11.6 -11.6zM751.6 780.1l11.6 11.6l-11.6 11.6l-11.6 -11.6zM752.7 773.1l11.6 11.6l-11.6 11.6l-11.6 -11.6zM753.7 778.1l11.6 11.6l-11.6 11.6l-11.6 -11.6zM754.8 770.9l11.6 11.6l-11.6 11.6l-11.6 -11.6zM755.8 769.8l11.6 11.6l-11.6 11.6l-11.6 -11.6zM756.8 774.9l11.6 11.6l-11.6 11.6l-11.6 -11.6zM757.9 768.6l11.6 11.6l-11.6 11.6l-11.6 -11.6zM758.9 772.7l11.6 11.6l-11.6 11.6l-11.6 -11.6zM760.0 769.5l11.6 11.6l-11.6 11.6l-11.6 -11.6zM761.0 773.0l11.6 11.6l-11.6 11.6l-11.6 -11.6zM762.1 768.4l11.6 11.6l-11.6 11.6l-11.6 -11.6zM763.1 773.0l11.6 11.6l-11.6 11.6l-11.6 -11.6zM764.1 766.3l11.6 11.6l-11.6 11.6l-11.6 -11.6zM765.2 766.9l11.6 11.6l-11.6 11.6l-11.6 -11.6zM766.2 761.8l11.6 11.6l-11.6 11.6l-11.6 -11.6zM767.3 753.5l11.6 11.6l-11.6 11.6l-11.6 -11.6zM768.3 747.3l11.6 11.6l-11.6 11.6l-11.6 -11.6zM769.4 740.7l11.6 11.6l-11.6 11.6l-11.6 -11.6zM770.4 734.4l11.6 11.6l-11.6 11.6l-11.6 -11.6zM771.4 735.9l11.6 11.6l-11.6 11.6l-11.6 -11.6zM772.5 749.1l11.6 11.6l-11.6 11.6l-11.6 -11.6zM773.5 751.0l11.6 11.6l-11.6 11.6l-11.6 -11.6zM774.6 757.4l11.6 11.6l-11.6 11.6l-11.6 -11.6zM775.6 766.7l11.6 11.6l-11.6 11.6l-11.6 -11.6zM776.6 766.5l11.6 11.6l-11.6 11.6l-11.6 -11.6zM777.7 774.0l11.6 11.6l-11.6 11.6l-11.6 -11.6zM778.7 767.0l11.6 11.6l-11.6 11.6l-11.6 -11.6zM779.8 773.3l11.6 11.6l-11.6 11.6l-11.6 -11.6zM780.8 773.6l11.6 11.6l-11.6 11.6l-11.6 -11.6zM781.9 770.3l11.6 11.6l-11.6 11.6l-11.6 -11.6zM782.9 774.9l11.6 11.6l-11.6 11.6l-11.6 -11.6zM783.9 773.0l11.6 11.6l-11.6 11.6l-11.6 -11.6zM785.0 778.4l11.6 11.6l-11.6 11.6l-11.6 -11.6zM786.0 777.2l11.6 11.6l-11.6 11.6l-11.6 -11.6zM787.1 779.9l11.6 11.6l-11.6 11.6l-11.6 -11.6zM788.1 776.4l11.6 11.6l-11.6 11.6l-11.6 -11.6zM789.2 772.7l11.6 11.6l-11.6 11.6l-11.6 -11.6zM790.2 775.4l11.6 11.6l-11.6 11.6l-11.6 -11.6zM791.2 773.4l11.6 11.6l-11.6 11.6l-11.6 -11.6zM792.3 779.4l11.6 11.6l-11.6 11.6l-11.6 -11.6zM793.3 779.1l11.6 11.6l-11.6 11.6l-11.6 -11.6zM794.4 777.9l11.6 11.6l-11.6 11.6l-11.6 -11.6zM795.4 774.7l11.6 11.6l-11.6 11.6l-11.6 -11.6zM796.5 775.4l11.6 11.6l-11.6 11.6l-11.6 -11.6zM797.5 776.6l11.6 11.6l-11.6 11.6l-11.6 -11.6zM798.5 774.7l11.6 11.6l-11.6 11.6l-11.6 -11.6zM799.6 777.1l11.6 11.6l-11.6 11.6l-11.6 -11.6zM800.6 776.8l11.6 11.6l-11.6 11.6l-11.6 -11.6zM801.7 772.7l11.6 11.6l-11.6 11.6l-11.6 -11.6zM802.7 778.6l11.6 11.6l-11.6 11.6l-11.6 -11.6zM803.8 776.2l11.6 11.6l-11.6 11.6l-11.6 -11.6zM804.8 771.8l11.6 11.6l-11.6 11.6l-11.6 -11.6zM805.8 776.5l11.6 11.6l-11.6 11.6l-11.6 -11.6zM806.9 774.6l11.6 11.6l-11.6 11.6l-11.6 -11.6zM807.9 778.7l11.6 11.6l-11.6 11.6l-11.6 -11.6zM809.0 770.8l11.6 11.6l-11.6 11.6l-11.6 -11.6zM810.0 782.4l11.6 11.6l-11.6 11.6l-11.6 -11.6zM811.1 780.4l11.6 11.6l-11.6 11.6l-11.6 -11.6zM812.1 780.1l11.6 11.6l-11.6 11.6l-11.6 -11.6zM813.1 771.8l11.6 11.6l-11.6 11.6l-11.6 -11.6zM814.2 775.8l11.6 11.6l-11.6 11.6l-11.6 -11.6zM815.2 777.7l11.6 11.6l-11.6 11.6l-11.6 -11.6zM816.3 780.8l11.6 11.6l-11.6 11.6l-11.6 -11.6zM817.3 775.7l11.6 11.6l-11.6 11.6l-11.6 -11.6zM818.3 776.4l11.6 11.6l-11.6 11.6l-11.6 -11.6zM819.4 778.9l11.6 11.6l-11.6 11.6l-11.6 -11.6zM820.4 781.4l11.6 11.6l-11.6 11.6l-11.6 -11.6zM821.5 780.1l11.6 11.6l-11.6 11.6l-11.6 -11.6zM822.5 776.0l11.6 11.6l-11.6 11.6l-11.6 -11.6zM823.6 775.7l11.6 11.6l-11.6 11.6l-11.6 -11.6zM824.6 776.4l11.6 11.6l-11.6 11.6l-11.6 -11.6zM825.6 777.0l11.6 11.6l-11.6 11.6l-11.6 -11.6zM826.7 781.9l11.6 11.6l-11.6 11.6l-11.6 -11.6zM827.7 776.2l11.6 11.6l-11.6 11.6l-11.6 -11.6zM828.8 779.5l11.6 11.6l-11.6 11.6l-11.6 -11.6zM829.8 776.0l11.6 11.6l-11.6 11.6l-11.6 -11.6zM830.9 774.6l11.6 11.6l-11.6 11.6l-11.6 -11.6zM831.9 778.0l11.6 11.6l-11.6 11.6l-11.6 -11.6zM832.9 778.8l11.6 11.6l-11.6 11.6l-11.6 -11.6zM834.0 772.3l11.6 11.6l-11.6 11.6l-11.6 -11.6zM835.0 774.0l11.6 11.6l-11.6 11.6l-11.6 -11.6zM836.1 776.7l11.6 11.6l-11.6 11.6l-11.6 -11.6zM837.1 779.8l11.6 11.6l-11.6 11.6l-11.6 -11.6zM838.2 773.7l11.6 11.6l-11.6 11.6l-11.6 -11.6zM839.2 770.8l11.6 11.6l-11.6 11.6l-11.6 -11.6zM840.2 768.1l11.6 11.6l-11.6 11.6l-11.6 -11.6zM841.3 772.0l11.6 11.6l-11.6 11.6l-11.6 -11.6zM842.3 769.6l11.6 11.6l-11.6 11.6l-11.6 -11.6zM843.4 765.6l11.6 11.6l-11.6 11.6l-11.6 -11.6zM844.4 756.6l11.6 11.6l-11.6 11.6l-11.6 -11.6zM845.5 756.1l11.6 11.6l-11.6 11.6l-11.6 -11.6zM846.5 744.8l11.6 11.6l-11.6 11.6l-11.6 -11.6zM847.5 740.8l11.6 11.6l-11.6 11.6l-11.6 -11.6zM848.6 736.3l11.6 11.6l-11.6 11.6l-11.6 -11.6zM849.6 747.7l11.6 11.6l-11.6 11.6l-11.6 -11.6zM850.7 749.7l11.6 11.6l-11.6 11.6l-11.6 -11.6zM851.7 759.5l11.6 11.6l-11.6 11.6l-11.6 -11.6zM852.8 764.0l11.6 11.6l-11.6 11.6l-11.6 -11.6zM853.8 765.4l11.6 11.6l-11.6 11.6l-11.6 -11.6zM854.8 766.0l11.6 11.6l-11.6 11.6l-11.6 -11.6zM855.9 776.5l11.6 11.6l-11.6 11.6l-11.6 -11.6zM856.9 769.4l11.6 11.6l-11.6 11.6l-11.6 -11.6zM858.0 771.7l11.6 11.6l-11.6 11.6l-11.6 -11.6zM859.0 775.0l11.6 11.6l-11.6 11.6l-11.6 -11.6zM860.0 770.2l11.6 11.6l-11.6 11.6l-11.6 -11.6zM861.1 774.4l11.6 11.6l-11.6 11.6l-11.6 -11.6zM862.1 771.3l11.6 11.6l-11.6 11.6l-11.6 -11.6zM863.2 777.4l11.6 11.6l-11.6 11.6l-11.6 -11.6zM864.2 778.4l11.6 11.6l-11.6 11.6l-11.6 -11.6zM865.3 772.1l11.6 11.6l-11.6 11.6l-11.6 -11.6zM866.3 769.3l11.6 11.6l-11.6 11.6l-11.6 -11.6zM867.3 774.2l11.6 11.6l-11.6 11.6l-11.6 -11.6zM868.4 773.5l11.6 11.6l-11.6 11.6l-11.6 -11.6zM869.4 777.8l11.6 11.6l-11.6 11.6l-11.6 -11.6zM870.5 780.4l11.6 11.6l-11.6 11.6l-11.6 -11.6zM871.5 777.1l11.6 11.6l-11.6 11.6l-11.6 -11.6zM872.6 771.8l11.6 11.6l-11.6 11.6l-11.6 -11.6zM873.6 782.0l11.6 11.6l-11.6 11.6l-11.6 -11.6zM874.6 778.0l11.6 11.6l-11.6 11.6l-11.6 -11.6zM875.7 782.0l11.6 11.6l-11.6 11.6l-11.6 -11.6zM876.7 776.1l11.6 11.6l-11.6 11.6l-11.6 -11.6zM877.8 773.7l11.6 11.6l-11.6 11.6l-11.6 -11.6zM878.8 780.2l11.6 11.6l-11.6 11.6l-11.6 -11.6zM879.9 777.6l11.6 11.6l-11.6 11.6l-11.6 -11.6zM880.9 772.1l11.6 11.6l-11.6 11.6l-11.6 -11.6zM881.9 776.4l11.6 11.6l-11.6 11.6l-11.6 -11.6zM883.0 779.9l11.6 11.6l-11.6 11.6l-11.6 -11.6zM884.0 780.0l11.6 11.6l-11.6 11.6l-11.6 -11.6zM885.1 781.4l11.6 11.6l-11.6 11.6l-11.6 -11.6zM886.1 773.2l11.6 11.6l-11.6 11.6l-11.6 -11.6zM887.2 777.6l11.6 11.6l-11.6 11.6l-11.6 -11.6zM888.2 771.8l11.6 11.6l-11.6 11.6l-11.6 -11.6zM889.2 771.9l11.6 11.6l-11.6 11.6l-11.6 -11.6zM890.3 776.1l11.6 11.6l-11.6 11.6l-11.6 -11.6zM891.3 775.0l11.6 11.6l-11.6 11.6l-11.6 -11.6zM892.4 769.9l11.6 11.6l-11.6 11.6l-11.6 -11.6zM893.4 770.5l11.6 11.6l-11.6 11.6l-11.6 -11.6zM894.5 768.1l11.6 11.6l-11.6 11.6l-11.6 -11.6zM895.5 771.4l11.6 11.6l-11.6 11.6l-11.6 -11.6zM896.5 760.2l11.6 11.6l-11.6 11.6l-11.6 -11.6zM897.6 762.4l11.6 11.6l-11.6 11.6l-11.6 -11.6zM898.6 763.0l11.6 11.6l-11.6 11.6l-11.6 -11.6zM899.7 758.9l11.6 11.6l-11.6 11.6l-11.6 -11.6zM900.7 756.8l11.6 11.6l-11.6 11.6l-11.6 -11.6zM901.7 753.5l11.6 11.6l-11.6 11.6l-11.6 -11.6zM902.8 763.1l11.6 11.6l-11.6 11.6l-11.6 -11.6zM903.8 767.8l11.6 11.6l-11.6 11.6l-11.6 -11.6zM904.9 758.9l11.6 11.6l-11.6 11.6l-11.6 -11.6zM905.9 766.7l11.6 11.6l-11.6 11.6l-11.6 -11.6zM907.0 769.3l11.6 11.6l-11.6 11.6l-11.6 -11.6zM908.0 772.5l11.6 11.6l-11.6 11.6l-11.6 -11.6zM909.0 772.3l11.6 11.6l-11.6 11.6l-11.6 -11.6zM910.1 764.0l11.6 11.6l-11.6 11.6l-11.6 -11.6zM911.1 768.5l11.6 11.6l-11.6 11.6l-11.6 -11.6zM912.2 768.6l11.6 11.6l-11.6 11.6l-11.6 -11.6zM913.2 768.4l11.6 11.6l-11.6 11.6l-11.6 -11.6zM914.3 762.6l11.6 11.6l-11.6 11.6l-11.6 -11.6zM915.3 770.6l11.6 11.6l-11.6 11.6l-11.6 -11.6zM916.3 768.4l11.6 11.6l-11.6 11.6l-11.6 -11.6zM917.4 771.0l11.6 11.6l-11.6 11.6l-11.6 -11.6zM918.4 772.2l11.6 11.6l-11.6 11.6l-11.6 -11.6zM919.5 776.4l11.6 11.6l-11.6 11.6l-11.6 -11.6zM920.5 772.2l11.6 11.6l-11.6 11.6l-11.6 -11.6zM921.6 769.7l11.6 11.6l-11.6 11.6l-11.6 -11.6zM922.6 775.1l11.6 11.6l-11.6 11.6l-11.6 -11.6zM923.6 777.9l11.6 11.6l-11.6 11.6l-11.6 -11.6zM924.7 779.2l11.6 11.6l-11.6 11.6l-11.6 -11.6zM925.7 774.7l11.6 11.6l-11.6 11.6l-11.6 -11.6zM926.8 776.1l11.6 11.6l-11.6 11.6l-11.6 -11.6zM927.8 775.5l11.6 11.6l-11.6 11.6l-11.6 -11.6zM928.9 775.0l11.6 11.6l-11.6 11.6l-11.6 -11.6zM929.9 779.4l11.6 11.6l-11.6 11.6l-11.6 -11.6zM930.9 772.1l11.6 11.6l-11.6 11.6l-11.6 -11.6zM932.0 773.4l11.6 11.6l-11.6 11.6l-11.6 -11.6zM933.0 773.9l11.6 11.6l-11.6 11.6l-11.6 -11.6zM934.1 772.5l11.6 11.6l-11.6 11.6l-11.6 -11.6zM935.1 770.0l11.6 11.6l-11.6 11.6l-11.6 -11.6zM936.2 772.6l11.6 11.6l-11.6 11.6l-11.6 -11.6zM937.2 775.6l11.6 11.6l-11.6 11.6l-11.6 -11.6zM938.2 769.6l11.6 11.6l-11.6 11.6l-11.6 -11.6zM939.3 774.9l11.6 11.6l-11.6 11.6l-11.6 -11.6zM940.3 776.0l11.6 11.6l-11.6 11.6l-11.6 -11.6zM941.4 778.7l11.6 11.6l-11.6 11.6l-11.6 -11.6zM942.4 773.8l11.6 11.6l-11.6 11.6l-11.6 -11.6zM943.4 777.0l11.6 11.6l-11.6 11.6l-11.6 -11.6zM944.5 775.1l11.6 11.6l-11.6 11.6l-11.6 -11.6zM945.5 771.8l11.6 11.6l-11.6 11.6l-11.6 -11.6zM946.6 772.6l11.6 11.6l-11.6 11.6l-11.6 -11.6zM947.6 768.9l11.6 11.6l-11.6 11.6l-11.6 -11.6zM948.7 770.2l11.6 11.6l-11.6 11.6l-11.6 -11.6zM949.7 771.3l11.6 11.6l-11.6 11.6l-11.6 -11.6zM950.7 769.4l11.6 11.6l-11.6 11.6l-11.6 -11.6zM951.8 767.6l11.6 11.6l-11.6 11.6l-11.6 -11.6zM952.8 760.8l11.6 11.6l-11.6 11.6l-11.6 -11.6zM953.9 758.2l11.6 11.6l-11.6 11.6l-11.6 -11.6zM954.9 753.4l11.6 11.6l-11.6 11.6l-11.6 -11.6zM956.0 742.1l11.6 11.6l-11.6 11.6l-11.6 -11.6zM957.0 737.3l11.6 11.6l-11.6 11.6l-11.6 -11.6zM958.0 736.6l11.6 11.6l-11.6 11.6l-11.6 -11.6zM959.1 744.7l11.6 11.6l-11.6 11.6l-11.6 -11.6zM960.1 746.0l11.6 11.6l-11.6 11.6l-11.6 -11.6zM961.2 753.5l11.6 11.6l-11.6 11.6l-11.6 -11.6zM962.2 759.3l11.6 11.6l-11.6 11.6l-11.6 -11.6zM963.3 764.6l11.6 11.6l-11.6 11.6l-11.6 -11.6zM964.3 768.5l11.6 11.6l-11.6 11.6l-11.6 -11.6zM965.3 768.4l11.6 11.6l-11.6 11.6l-11.6 -11.6zM966.4 768.1l11.6 11.6l-11.6 11.6l-11.6 -11.6zM967.4 770.0l11.6 11.6l-11.6 11.6l-11.6 -11.6zM968.5 770.6l11.6 11.6l-11.6 11.6l-11.6 -11.6zM969.5 771.8l11.6 11.6l-11.6 11.6l-11.6 -11.6zM970.6 769.3l11.6 11.6l-11.6 11.6l-11.6 -11.6zM971.6 769.5l11.6 11.6l-11.6 11.6l-11.6 -11.6zM972.6 772.3l11.6 11.6l-11.6 11.6l-11.6 -11.6zM973.7 767.0l11.6 11.6l-11.6 11.6l-11.6 -11.6zM974.7 766.2l11.6 11.6l-11.6 11.6l-11.6 -11.6zM975.8 765.1l11.6 11.6l-11.6 11.6l-11.6 -11.6zM976.8 766.7l11.6 11.6l-11.6 11.6l-11.6 -11.6zM977.9 765.0l11.6 11.6l-11.6 11.6l-11.6 -11.6zM978.9 765.4l11.6 11.6l-11.6 11.6l-11.6 -11.6zM979.9 755.8l11.6 11.6l-11.6 11.6l-11.6 -11.6zM981.0 758.7l11.6 11.6l-11.6 11.6l-11.6 -11.6zM982.0 747.2l11.6 11.6l-11.6 11.6l-11.6 -11.6zM983.1 737.3l11.6 11.6l-11.6 11.6l-11.6 -11.6zM984.1 720.3l11.6 11.6l-11.6 11.6l-11.6 -11.6zM985.1 706.8l11.6 11.6l-11.6 11.6l-11.6 -11.6zM986.2 701.5l11.6 11.6l-11.6 11.6l-11.6 -11.6zM987.2 705.8l11.6 11.6l-11.6 11.6l-11.6 -11.6zM988.3 706.8l11.6 11.6l-11.6 11.6l-11.6 -11.6zM989.3 708.3l11.6 11.6l-11.6 11.6l-11.6 -11.6zM990.4 715.6l11.6 11.6l-11.6 11.6l-11.6 -11.6zM991.4 725.7l11.6 11.6l-11.6 11.6l-11.6 -11.6zM992.4 735.8l11.6 11.6l-11.6 11.6l-11.6 -11.6zM993.5 740.8l11.6 11.6l-11.6 11.6l-11.6 -11.6zM994.5 740.8l11.6 11.6l-11.6 11.6l-11.6 -11.6zM995.6 748.4l11.6 11.6l-11.6 11.6l-11.6 -11.6zM996.6 743.6l11.6 11.6l-11.6 11.6l-11.6 -11.6zM997.7 734.7l11.6 11.6l-11.6 11.6l-11.6 -11.6zM998.7 731.1l11.6 11.6l-11.6 11.6l-11.6 -11.6zM999.7 724.4l11.6 11.6l-11.6 11.6l-11.6 -11.6zM1000.8 708.6l11.6 11.6l-11.6 11.6l-11.6 -11.6zM1001.8 699.9l11.6 11.6l-11.6 11.6l-11.6 -11.6zM1002.9 690.6l11.6 11.6l-11.6 11.6l-11.6 -11.6zM1003.9 696.2l11.6 11.6l-11.6 11.6l-11.6 -11.6zM1005.0 712.5l11.6 11.6l-11.6 11.6l-11.6 -11.6zM1006.0 738.0l11.6 11.6l-11.6 11.6l-11.6 -11.6zM1007.0 740.9l11.6 11.6l-11.6 11.6l-11.6 -11.6zM1008.1 744.4l11.6 11.6l-11.6 11.6l-11.6 -11.6zM1009.1 757.3l11.6 11.6l-11.6 11.6l-11.6 -11.6zM1010.2 758.4l11.6 11.6l-11.6 11.6l-11.6 -11.6zM1011.2 757.0l11.6 11.6l-11.6 11.6l-11.6 -11.6zM1012.3 764.9l11.6 11.6l-11.6 11.6l-11.6 -11.6zM1013.3 763.1l11.6 11.6l-11.6 11.6l-11.6 -11.6zM1014.3 765.3l11.6 11.6l-11.6 11.6l-11.6 -11.6zM1015.4 770.9l11.6 11.6l-11.6 11.6l-11.6 -11.6zM1016.4 764.0l11.6 11.6l-11.6 11.6l-11.6 -11.6zM1017.5 765.0l11.6 11.6l-11.6 11.6l-11.6 -11.6zM1018.5 760.3l11.6 11.6l-11.6 11.6l-11.6 -11.6zM1019.6 754.8l11.6 11.6l-11.6 11.6l-11.6 -11.6zM1020.6 756.5l11.6 11.6l-11.6 11.6l-11.6 -11.6zM1021.6 756.3l11.6 11.6l-11.6 11.6l-11.6 -11.6zM1022.7 749.4l11.6 11.6l-11.6 11.6l-11.6 -11.6zM1023.7 745.1l11.6 11.6l-11.6 11.6l-11.6 -11.6zM1024.8 736.5l11.6 11.6l-11.6 11.6l-11.6 -11.6zM1025.8 736.8l11.6 11.6l-11.6 11.6l-11.6 -11.6zM1026.8 727.3l11.6 11.6l-11.6 11.6l-11.6 -11.6zM1027.9 721.3l11.6 11.6l-11.6 11.6l-11.6 -11.6zM1028.9 710.7l11.6 11.6l-11.6 11.6l-11.6 -11.6zM1030.0 717.6l11.6 11.6l-11.6 11.6l-11.6 -11.6zM1031.0 729.4l11.6 11.6l-11.6 11.6l-11.6 -11.6zM1032.1 740.2l11.6 11.6l-11.6 11.6l-11.6 -11.6zM1033.1 748.7l11.6 11.6l-11.6 11.6l-11.6 -11.6zM1034.1 756.8l11.6 11.6l-11.6 11.6l-11.6 -11.6zM1035.2 760.0l11.6 11.6l-11.6 11.6l-11.6 -11.6zM1036.2 764.3l11.6 11.6l-11.6 11.6l-11.6 -11.6zM1037.3 761.2l11.6 11.6l-11.6 11.6l-11.6 -11.6zM1038.3 766.6l11.6 11.6l-11.6 11.6l-11.6 -11.6zM1039.4 771.7l11.6 11.6l-11.6 11.6l-11.6 -11.6zM1040.4 772.2l11.6 11.6l-11.6 11.6l-11.6 -11.6zM1041.4 767.6l11.6 11.6l-11.6 11.6l-11.6 -11.6zM1042.5 770.7l11.6 11.6l-11.6 11.6l-11.6 -11.6zM1043.5 771.9l11.6 11.6l-11.6 11.6l-11.6 -11.6zM1044.6 771.1l11.6 11.6l-11.6 11.6l-11.6 -11.6zM1045.6 768.8l11.6 11.6l-11.6 11.6l-11.6 -11.6zM1046.7 777.9l11.6 11.6l-11.6 11.6l-11.6 -11.6zM1047.7 776.7l11.6 11.6l-11.6 11.6l-11.6 -11.6zM1048.7 780.0l11.6 11.6l-11.6 11.6l-11.6 -11.6zM1049.8 773.3l11.6 11.6l-11.6 11.6l-11.6 -11.6zM1050.8 776.2l11.6 11.6l-11.6 11.6l-11.6 -11.6zM1051.9 777.3l11.6 11.6l-11.6 11.6l-11.6 -11.6zM1052.9 777.7l11.6 11.6l-11.6 11.6l-11.6 -11.6zM1054.0 773.3l11.6 11.6l-11.6 11.6l-11.6 -11.6zM1055.0 776.0l11.6 11.6l-11.6 11.6l-11.6 -11.6zM1056.0 777.3l11.6 11.6l-11.6 11.6l-11.6 -11.6zM1057.1 771.8l11.6 11.6l-11.6 11.6l-11.6 -11.6zM1058.1 778.9l11.6 11.6l-11.6 11.6l-11.6 -11.6zM1059.2 779.6l11.6 11.6l-11.6 11.6l-11.6 -11.6zM1060.2 767.6l11.6 11.6l-11.6 11.6l-11.6 -11.6zM1061.3 776.8l11.6 11.6l-11.6 11.6l-11.6 -11.6zM1062.3 777.2l11.6 11.6l-11.6 11.6l-11.6 -11.6zM1063.3 777.6l11.6 11.6l-11.6 11.6l-11.6 -11.6zM1064.4 775.6l11.6 11.6l-11.6 11.6l-11.6 -11.6zM1065.4 772.5l11.6 11.6l-11.6 11.6l-11.6 -11.6zM1066.5 772.1l11.6 11.6l-11.6 11.6l-11.6 -11.6zM1067.5 772.3l11.6 11.6l-11.6 11.6l-11.6 -11.6zM1068.5 774.1l11.6 11.6l-11.6 11.6l-11.6 -11.6zM1069.6 777.2l11.6 11.6l-11.6 11.6l-11.6 -11.6zM1070.6 771.1l11.6 11.6l-11.6 11.6l-11.6 -11.6zM1071.7 767.1l11.6 11.6l-11.6 11.6l-11.6 -11.6zM1072.7 768.7l11.6 11.6l-11.6 11.6l-11.6 -11.6zM1073.8 773.1l11.6 11.6l-11.6 11.6l-11.6 -11.6zM1074.8 770.8l11.6 11.6l-11.6 11.6l-11.6 -11.6zM1075.8 775.2l11.6 11.6l-11.6 11.6l-11.6 -11.6zM1076.9 774.7l11.6 11.6l-11.6 11.6l-11.6 -11.6zM1077.9 778.8l11.6 11.6l-11.6 11.6l-11.6 -11.6zM1079.0 776.3l11.6 11.6l-11.6 11.6l-11.6 -11.6zM1080.0 775.1l11.6 11.6l-11.6 11.6l-11.6 -11.6zM1081.1 776.2l11.6 11.6l-11.6 11.6l-11.6 -11.6zM1082.1 773.4l11.6 11.6l-11.6 11.6l-11.6 -11.6zM1083.1 770.0l11.6 11.6l-11.6 11.6l-11.6 -11.6zM1084.2 771.7l11.6 11.6l-11.6 11.6l-11.6 -11.6zM1085.2 776.8l11.6 11.6l-11.6 11.6l-11.6 -11.6zM1086.3 778.1l11.6 11.6l-11.6 11.6l-11.6 -11.6zM1087.3 777.8l11.6 11.6l-11.6 11.6l-11.6 -11.6zM1088.4 778.7l11.6 11.6l-11.6 11.6l-11.6 -11.6zM1089.4 775.5l11.6 11.6l-11.6 11.6l-11.6 -11.6zM1090.4 774.2l11.6 11.6l-11.6 11.6l-11.6 -11.6zM1091.5 774.8l11.6 11.6l-11.6 11.6l-11.6 -11.6zM1092.5 774.5l11.6 11.6l-11.6 11.6l-11.6 -11.6zM1093.6 774.4l11.6 11.6l-11.6 11.6l-11.6 -11.6zM1094.6 775.0l11.6 11.6l-11.6 11.6l-11.6 -11.6zM1095.7 776.6l11.6 11.6l-11.6 11.6l-11.6 -11.6zM1096.7 768.5l11.6 11.6l-11.6 11.6l-11.6 -11.6zM1097.7 770.0l11.6 11.6l-11.6 11.6l-11.6 -11.6zM1098.8 775.4l11.6 11.6l-11.6 11.6l-11.6 -11.6zM1099.8 774.5l11.6 11.6l-11.6 11.6l-11.6 -11.6zM1100.9 772.4l11.6 11.6l-11.6 11.6l-11.6 -11.6zM1101.9 768.9l11.6 11.6l-11.6 11.6l-11.6 -11.6zM1103.0 763.1l11.6 11.6l-11.6 11.6l-11.6 -11.6zM1104.0 761.0l11.6 11.6l-11.6 11.6l-11.6 -11.6zM1105.0 757.0l11.6 11.6l-11.6 11.6l-11.6 -11.6zM1106.1 751.6l11.6 11.6l-11.6 11.6l-11.6 -11.6zM1107.1 744.5l11.6 11.6l-11.6 11.6l-11.6 -11.6zM1108.2 736.8l11.6 11.6l-11.6 11.6l-11.6 -11.6zM1109.2 729.2l11.6 11.6l-11.6 11.6l-11.6 -11.6zM1110.2 729.8l11.6 11.6l-11.6 11.6l-11.6 -11.6zM1111.3 742.3l11.6 11.6l-11.6 11.6l-11.6 -11.6zM1112.3 746.1l11.6 11.6l-11.6 11.6l-11.6 -11.6zM1113.4 747.3l11.6 11.6l-11.6 11.6l-11.6 -11.6zM1114.4 760.0l11.6 11.6l-11.6 11.6l-11.6 -11.6zM1115.5 764.1l11.6 11.6l-11.6 11.6l-11.6 -11.6zM1116.5 761.7l11.6 11.6l-11.6 11.6l-11.6 -11.6zM1117.5 766.4l11.6 11.6l-11.6 11.6l-11.6 -11.6zM1118.6 769.3l11.6 11.6l-11.6 11.6l-11.6 -11.6zM1119.6 763.6l11.6 11.6l-11.6 11.6l-11.6 -11.6zM1120.7 766.8l11.6 11.6l-11.6 11.6l-11.6 -11.6zM1121.7 766.2l11.6 11.6l-11.6 11.6l-11.6 -11.6zM1122.8 769.7l11.6 11.6l-11.6 11.6l-11.6 -11.6zM1123.8 765.4l11.6 11.6l-11.6 11.6l-11.6 -11.6zM1124.8 764.2l11.6 11.6l-11.6 11.6l-11.6 -11.6zM1125.9 760.6l11.6 11.6l-11.6 11.6l-11.6 -11.6zM1126.9 756.2l11.6 11.6l-11.6 11.6l-11.6 -11.6zM1128.0 752.1l11.6 11.6l-11.6 11.6l-11.6 -11.6zM1129.0 750.3l11.6 11.6l-11.6 11.6l-11.6 -11.6zM1130.1 744.5l11.6 11.6l-11.6 11.6l-11.6 -11.6zM1131.1 748.1l11.6 11.6l-11.6 11.6l-11.6 -11.6zM1132.1 743.5l11.6 11.6l-11.6 11.6l-11.6 -11.6zM1133.2 747.1l11.6 11.6l-11.6 11.6l-11.6 -11.6zM1134.2 755.2l11.6 11.6l-11.6 11.6l-11.6 -11.6zM1135.3 761.1l11.6 11.6l-11.6 11.6l-11.6 -11.6zM1136.3 762.7l11.6 11.6l-11.6 11.6l-11.6 -11.6zM1137.4 769.1l11.6 11.6l-11.6 11.6l-11.6 -11.6zM1138.4 766.4l11.6 11.6l-11.6 11.6l-11.6 -11.6zM1139.4 768.1l11.6 11.6l-11.6 11.6l-11.6 -11.6zM1140.5 773.0l11.6 11.6l-11.6 11.6l-11.6 -11.6zM1141.5 770.7l11.6 11.6l-11.6 11.6l-11.6 -11.6zM1142.6 768.0l11.6 11.6l-11.6 11.6l-11.6 -11.6zM1143.6 768.4l11.6 11.6l-11.6 11.6l-11.6 -11.6zM1144.7 768.7l11.6 11.6l-11.6 11.6l-11.6 -11.6zM1145.7 772.3l11.6 11.6l-11.6 11.6l-11.6 -11.6zM1146.7 772.8l11.6 11.6l-11.6 11.6l-11.6 -11.6zM1147.8 772.6l11.6 11.6l-11.6 11.6l-11.6 -11.6zM1148.8 769.1l11.6 11.6l-11.6 11.6l-11.6 -11.6zM1149.9 763.0l11.6 11.6l-11.6 11.6l-11.6 -11.6zM1150.9 765.0l11.6 11.6l-11.6 11.6l-11.6 -11.6zM1151.9 763.2l11.6 11.6l-11.6 11.6l-11.6 -11.6zM1153.0 762.2l11.6 11.6l-11.6 11.6l-11.6 -11.6zM1154.0 769.1l11.6 11.6l-11.6 11.6l-11.6 -11.6zM1155.1 761.7l11.6 11.6l-11.6 11.6l-11.6 -11.6zM1156.1 758.4l11.6 11.6l-11.6 11.6l-11.6 -11.6zM1157.2 748.3l11.6 11.6l-11.6 11.6l-11.6 -11.6zM1158.2 741.6l11.6 11.6l-11.6 11.6l-11.6 -11.6zM1159.2 744.4l11.6 11.6l-11.6 11.6l-11.6 -11.6zM1160.3 739.9l11.6 11.6l-11.6 11.6l-11.6 -11.6zM1161.3 739.4l11.6 11.6l-11.6 11.6l-11.6 -11.6zM1162.4 746.5l11.6 11.6l-11.6 11.6l-11.6 -11.6zM1163.4 752.1l11.6 11.6l-11.6 11.6l-11.6 -11.6zM1164.5 757.4l11.6 11.6l-11.6 11.6l-11.6 -11.6zM1165.5 756.8l11.6 11.6l-11.6 11.6l-11.6 -11.6zM1166.5 765.7l11.6 11.6l-11.6 11.6l-11.6 -11.6zM1167.6 761.8l11.6 11.6l-11.6 11.6l-11.6 -11.6zM1168.6 766.8l11.6 11.6l-11.6 11.6l-11.6 -11.6zM1169.7 766.1l11.6 11.6l-11.6 11.6l-11.6 -11.6zM1170.7 764.5l11.6 11.6l-11.6 11.6l-11.6 -11.6zM1171.8 772.0l11.6 11.6l-11.6 11.6l-11.6 -11.6zM1172.8 772.8l11.6 11.6l-11.6 11.6l-11.6 -11.6zM1173.8 769.1l11.6 11.6l-11.6 11.6l-11.6 -11.6zM1174.9 773.7l11.6 11.6l-11.6 11.6l-11.6 -11.6zM1175.9 772.6l11.6 11.6l-11.6 11.6l-11.6 -11.6zM1177.0 770.4l11.6 11.6l-11.6 11.6l-11.6 -11.6zM1178.0 769.1l11.6 11.6l-11.6 11.6l-11.6 -11.6zM1179.1 772.8l11.6 11.6l-11.6 11.6l-11.6 -11.6zM1180.1 769.2l11.6 11.6l-11.6 11.6l-11.6 -11.6zM1181.1 765.1l11.6 11.6l-11.6 11.6l-11.6 -11.6zM1182.2 761.2l11.6 11.6l-11.6 11.6l-11.6 -11.6zM1183.2 769.0l11.6 11.6l-11.6 11.6l-11.6 -11.6zM1184.3 756.7l11.6 11.6l-11.6 11.6l-11.6 -11.6zM1185.3 754.6l11.6 11.6l-11.6 11.6l-11.6 -11.6zM1186.4 756.0l11.6 11.6l-11.6 11.6l-11.6 -11.6zM1187.4 751.0l11.6 11.6l-11.6 11.6l-11.6 -11.6zM1188.4 737.0l11.6 11.6l-11.6 11.6l-11.6 -11.6zM1189.5 729.4l11.6 11.6l-11.6 11.6l-11.6 -11.6zM1190.5 716.3l11.6 11.6l-11.6 11.6l-11.6 -11.6zM1191.6 704.0l11.6 11.6l-11.6 11.6l-11.6 -11.6zM1192.6 703.2l11.6 11.6l-11.6 11.6l-11.6 -11.6zM1193.6 701.4l11.6 11.6l-11.6 11.6l-11.6 -11.6zM1194.7 703.9l11.6 11.6l-11.6 11.6l-11.6 -11.6zM1195.7 711.9l11.6 11.6l-11.6 11.6l-11.6 -11.6zM1196.8 720.7l11.6 11.6l-11.6 11.6l-11.6 -11.6zM1197.8 731.6l11.6 11.6l-11.6 11.6l-11.6 -11.6zM1198.9 744.7l11.6 11.6l-11.6 11.6l-11.6 -11.6zM1199.9 752.8l11.6 11.6l-11.6 11.6l-11.6 -11.6zM1200.9 749.8l11.6 11.6l-11.6 11.6l-11.6 -11.6zM1202.0 758.9l11.6 11.6l-11.6 11.6l-11.6 -11.6zM1203.0 762.5l11.6 11.6l-11.6 11.6l-11.6 -11.6zM1204.1 769.4l11.6 11.6l-11.6 11.6l-11.6 -11.6zM1205.1 765.4l11.6 11.6l-11.6 11.6l-11.6 -11.6zM1206.2 771.6l11.6 11.6l-11.6 11.6l-11.6 -11.6zM1207.2 771.7l11.6 11.6l-11.6 11.6l-11.6 -11.6zM1208.2 775.3l11.6 11.6l-11.6 11.6l-11.6 -11.6zM1209.3 773.6l11.6 11.6l-11.6 11.6l-11.6 -11.6zM1210.3 772.4l11.6 11.6l-11.6 11.6l-11.6 -11.6zM1211.4 777.8l11.6 11.6l-11.6 11.6l-11.6 -11.6zM1212.4 776.3l11.6 11.6l-11.6 11.6l-11.6 -11.6zM1213.5 774.2l11.6 11.6l-11.6 11.6l-11.6 -11.6zM1214.5 778.2l11.6 11.6l-11.6 11.6l-11.6 -11.6zM1215.5 778.4l11.6 11.6l-11.6 11.6l-11.6 -11.6zM1216.6 777.4l11.6 11.6l-11.6 11.6l-11.6 -11.6zM1217.6 779.4l11.6 11.6l-11.6 11.6l-11.6 -11.6zM1218.7 773.3l11.6 11.6l-11.6 11.6l-11.6 -11.6zM1219.7 778.4l11.6 11.6l-11.6 11.6l-11.6 -11.6zM1220.8 773.1l11.6 11.6l-11.6 11.6l-11.6 -11.6zM1221.8 772.8l11.6 11.6l-11.6 11.6l-11.6 -11.6zM1222.8 779.4l11.6 11.6l-11.6 11.6l-11.6 -11.6zM1223.9 775.7l11.6 11.6l-11.6 11.6l-11.6 -11.6zM1224.9 777.4l11.6 11.6l-11.6 11.6l-11.6 -11.6zM1226.0 779.4l11.6 11.6l-11.6 11.6l-11.6 -11.6zM1227.0 777.0l11.6 11.6l-11.6 11.6l-11.6 -11.6zM1228.1 776.7l11.6 11.6l-11.6 11.6l-11.6 -11.6zM1229.1 773.8l11.6 11.6l-11.6 11.6l-11.6 -11.6zM1230.1 772.8l11.6 11.6l-11.6 11.6l-11.6 -11.6zM1231.2 779.4l11.6 11.6l-11.6 11.6l-11.6 -11.6zM1232.2 777.2l11.6 11.6l-11.6 11.6l-11.6 -11.6zM1233.3 774.2l11.6 11.6l-11.6 11.6l-11.6 -11.6zM1234.3 772.1l11.6 11.6l-11.6 11.6l-11.6 -11.6zM1235.3 781.1l11.6 11.6l-11.6 11.6l-11.6 -11.6zM1236.4 771.4l11.6 11.6l-11.6 11.6l-11.6 -11.6zM1237.4 775.6l11.6 11.6l-11.6 11.6l-11.6 -11.6zM1238.5 770.1l11.6 11.6l-11.6 11.6l-11.6 -11.6zM1239.5 775.8l11.6 11.6l-11.6 11.6l-11.6 -11.6zM1240.6 776.9l11.6 11.6l-11.6 11.6l-11.6 -11.6zM1241.6 774.1l11.6 11.6l-11.6 11.6l-11.6 -11.6zM1242.6 770.7l11.6 11.6l-11.6 11.6l-11.6 -11.6zM1243.7 774.4l11.6 11.6l-11.6 11.6l-11.6 -11.6zM1244.7 780.3l11.6 11.6l-11.6 11.6l-11.6 -11.6zM1245.8 772.8l11.6 11.6l-11.6 11.6l-11.6 -11.6zM1246.8 780.0l11.6 11.6l-11.6 11.6l-11.6 -11.6zM1247.9 778.2l11.6 11.6l-11.6 11.6l-11.6 -11.6zM1248.9 778.7l11.6 11.6l-11.6 11.6l-11.6 -11.6zM1249.9 780.7l11.6 11.6l-11.6 11.6l-11.6 -11.6zM1251.0 778.9l11.6 11.6l-11.6 11.6l-11.6 -11.6zM1252.0 777.9l11.6 11.6l-11.6 11.6l-11.6 -11.6zM1253.1 776.7l11.6 11.6l-11.6 11.6l-11.6 -11.6zM1254.1 774.9l11.6 11.6l-11.6 11.6l-11.6 -11.6zM1255.2 775.8l11.6 11.6l-11.6 11.6l-11.6 -11.6zM1256.2 779.4l11.6 11.6l-11.6 11.6l-11.6 -11.6zM1257.2 775.5l11.6 11.6l-11.6 11.6l-11.6 -11.6zM1258.3 772.0l11.6 11.6l-11.6 11.6l-11.6 -11.6zM1259.3 772.2l11.6 11.6l-11.6 11.6l-11.6 -11.6zM1260.4 774.7l11.6 11.6l-11.6 11.6l-11.6 -11.6zM1261.4 773.2l11.6 11.6l-11.6 11.6l-11.6 -11.6zM1262.5 772.3l11.6 11.6l-11.6 11.6l-11.6 -11.6zM1263.5 770.7l11.6 11.6l-11.6 11.6l-11.6 -11.6zM1264.5 769.5l11.6 11.6l-11.6 11.6l-11.6 -11.6zM1265.6 775.5l11.6 11.6l-11.6 11.6l-11.6 -11.6zM1266.6 775.0l11.6 11.6l-11.6 11.6l-11.6 -11.6zM1267.7 769.2l11.6 11.6l-11.6 11.6l-11.6 -11.6zM1268.7 768.4l11.6 11.6l-11.6 11.6l-11.6 -11.6zM1269.8 767.8l11.6 11.6l-11.6 11.6l-11.6 -11.6zM1270.8 777.5l11.6 11.6l-11.6 11.6l-11.6 -11.6zM1271.8 771.9l11.6 11.6l-11.6 11.6l-11.6 -11.6zM1272.9 776.3l11.6 11.6l-11.6 11.6l-11.6 -11.6zM1273.9 768.1l11.6 11.6l-11.6 11.6l-11.6 -11.6zM1275.0 770.1l11.6 11.6l-11.6 11.6l-11.6 -11.6zM1276.0 770.2l11.6 11.6l-11.6 11.6l-11.6 -11.6zM1277.0 771.0l11.6 11.6l-11.6 11.6l-11.6 -11.6zM1278.1 766.6l11.6 11.6l-11.6 11.6l-11.6 -11.6zM1279.1 771.6l11.6 11.6l-11.6 11.6l-11.6 -11.6zM1280.2 767.4l11.6 11.6l-11.6 11.6l-11.6 -11.6zM1281.2 768.5l11.6 11.6l-11.6 11.6l-11.6 -11.6zM1282.3 768.5l11.6 11.6l-11.6 11.6l-11.6 -11.6zM1283.3 767.4l11.6 11.6l-11.6 11.6l-11.6 -11.6zM1284.3 767.3l11.6 11.6l-11.6 11.6l-11.6 -11.6zM1285.4 769.5l11.6 11.6l-11.6 11.6l-11.6 -11.6zM1286.4 761.7l11.6 11.6l-11.6 11.6l-11.6 -11.6zM1287.5 758.9l11.6 11.6l-11.6 11.6l-11.6 -11.6zM1288.5 757.9l11.6 11.6l-11.6 11.6l-11.6 -11.6zM1289.6 750.5l11.6 11.6l-11.6 11.6l-11.6 -11.6zM1290.6 744.2l11.6 11.6l-11.6 11.6l-11.6 -11.6zM1291.6 744.8l11.6 11.6l-11.6 11.6l-11.6 -11.6zM1292.7 736.0l11.6 11.6l-11.6 11.6l-11.6 -11.6zM1293.7 734.3l11.6 11.6l-11.6 11.6l-11.6 -11.6zM1294.8 736.7l11.6 11.6l-11.6 11.6l-11.6 -11.6zM1295.8 737.1l11.6 11.6l-11.6 11.6l-11.6 -11.6zM1296.9 746.4l11.6 11.6l-11.6 11.6l-11.6 -11.6zM1297.9 750.8l11.6 11.6l-11.6 11.6l-11.6 -11.6zM1298.9 753.6l11.6 11.6l-11.6 11.6l-11.6 -11.6zM1300.0 757.1l11.6 11.6l-11.6 11.6l-11.6 -11.6zM1301.0 760.0l11.6 11.6l-11.6 11.6l-11.6 -11.6zM1302.1 756.1l11.6 11.6l-11.6 11.6l-11.6 -11.6zM1303.1 765.9l11.6 11.6l-11.6 11.6l-11.6 -11.6zM1304.2 764.5l11.6 11.6l-11.6 11.6l-11.6 -11.6zM1305.2 769.5l11.6 11.6l-11.6 11.6l-11.6 -11.6zM1306.2 764.5l11.6 11.6l-11.6 11.6l-11.6 -11.6zM1307.3 762.3l11.6 11.6l-11.6 11.6l-11.6 -11.6zM1308.3 761.7l11.6 11.6l-11.6 11.6l-11.6 -11.6zM1309.4 766.7l11.6 11.6l-11.6 11.6l-11.6 -11.6zM1310.4 764.5l11.6 11.6l-11.6 11.6l-11.6 -11.6zM1311.5 758.2l11.6 11.6l-11.6 11.6l-11.6 -11.6zM1312.5 760.4l11.6 11.6l-11.6 11.6l-11.6 -11.6zM1313.5 754.4l11.6 11.6l-11.6 11.6l-11.6 -11.6zM1314.6 756.8l11.6 11.6l-11.6 11.6l-11.6 -11.6zM1315.6 744.6l11.6 11.6l-11.6 11.6l-11.6 -11.6zM1316.7 739.1l11.6 11.6l-11.6 11.6l-11.6 -11.6zM1317.7 732.4l11.6 11.6l-11.6 11.6l-11.6 -11.6zM1318.7 726.1l11.6 11.6l-11.6 11.6l-11.6 -11.6zM1319.8 713.1l11.6 11.6l-11.6 11.6l-11.6 -11.6zM1320.8 703.0l11.6 11.6l-11.6 11.6l-11.6 -11.6zM1321.9 698.2l11.6 11.6l-11.6 11.6l-11.6 -11.6zM1322.9 700.9l11.6 11.6l-11.6 11.6l-11.6 -11.6zM1324.0 707.3l11.6 11.6l-11.6 11.6l-11.6 -11.6zM1325.0 713.5l11.6 11.6l-11.6 11.6l-11.6 -11.6zM1326.0 715.8l11.6 11.6l-11.6 11.6l-11.6 -11.6zM1327.1 728.9l11.6 11.6l-11.6 11.6l-11.6 -11.6zM1328.1 727.4l11.6 11.6l-11.6 11.6l-11.6 -11.6zM1329.2 724.5l11.6 11.6l-11.6 11.6l-11.6 -11.6zM1330.2 715.5l11.6 11.6l-11.6 11.6l-11.6 -11.6zM1331.3 710.8l11.6 11.6l-11.6 11.6l-11.6 -11.6zM1332.3 696.5l11.6 11.6l-11.6 11.6l-11.6 -11.6zM1333.3 695.4l11.6 11.6l-11.6 11.6l-11.6 -11.6zM1334.4 701.7l11.6 11.6l-11.6 11.6l-11.6 -11.6zM1335.4 713.3l11.6 11.6l-11.6 11.6l-11.6 -11.6zM1336.5 722.1l11.6 11.6l-11.6 11.6l-11.6 -11.6zM1337.5 732.4l11.6 11.6l-11.6 11.6l-11.6 -11.6zM1338.6 740.5l11.6 11.6l-11.6 11.6l-11.6 -11.6zM1339.6 750.5l11.6 11.6l-11.6 11.6l-11.6 -11.6zM1340.6 751.3l11.6 11.6l-11.6 11.6l-11.6 -11.6zM1341.7 761.7l11.6 11.6l-11.6 11.6l-11.6 -11.6zM1342.7 756.2l11.6 11.6l-11.6 11.6l-11.6 -11.6zM1343.8 767.8l11.6 11.6l-11.6 11.6l-11.6 -11.6zM1344.8 765.7l11.6 11.6l-11.6 11.6l-11.6 -11.6zM1345.9 768.8l11.6 11.6l-11.6 11.6l-11.6 -11.6zM1346.9 763.5l11.6 11.6l-11.6 11.6l-11.6 -11.6zM1347.9 771.0l11.6 11.6l-11.6 11.6l-11.6 -11.6zM1349.0 761.0l11.6 11.6l-11.6 11.6l-11.6 -11.6zM1350.0 771.3l11.6 11.6l-11.6 11.6l-11.6 -11.6zM1351.1 759.8l11.6 11.6l-11.6 11.6l-11.6 -11.6zM1352.1 763.9l11.6 11.6l-11.6 11.6l-11.6 -11.6zM1353.2 763.9l11.6 11.6l-11.6 11.6l-11.6 -11.6zM1354.2 761.1l11.6 11.6l-11.6 11.6l-11.6 -11.6zM1355.2 753.9l11.6 11.6l-11.6 11.6l-11.6 -11.6zM1356.3 756.6l11.6 11.6l-11.6 11.6l-11.6 -11.6zM1357.3 764.3l11.6 11.6l-11.6 11.6l-11.6 -11.6zM1358.4 755.5l11.6 11.6l-11.6 11.6l-11.6 -11.6zM1359.4 759.7l11.6 11.6l-11.6 11.6l-11.6 -11.6zM1360.4 767.0l11.6 11.6l-11.6 11.6l-11.6 -11.6zM1361.5 761.3l11.6 11.6l-11.6 11.6l-11.6 -11.6zM1362.5 768.8l11.6 11.6l-11.6 11.6l-11.6 -11.6zM1363.6 765.8l11.6 11.6l-11.6 11.6l-11.6 -11.6zM1364.6 766.8l11.6 11.6l-11.6 11.6l-11.6 -11.6zM1365.7 770.4l11.6 11.6l-11.6 11.6l-11.6 -11.6zM1366.7 767.1l11.6 11.6l-11.6 11.6l-11.6 -11.6zM1367.7 772.6l11.6 11.6l-11.6 11.6l-11.6 -11.6zM1368.8 769.0l11.6 11.6l-11.6 11.6l-11.6 -11.6zM1369.8 771.1l11.6 11.6l-11.6 11.6l-11.6 -11.6zM1370.9 769.5l11.6 11.6l-11.6 11.6l-11.6 -11.6zM1371.9 762.2l11.6 11.6l-11.6 11.6l-11.6 -11.6zM1373.0 766.7l11.6 11.6l-11.6 11.6l-11.6 -11.6zM1374.0 768.7l11.6 11.6l-11.6 11.6l-11.6 -11.6zM1375.0 763.3l11.6 11.6l-11.6 11.6l-11.6 -11.6zM1376.1 762.3l11.6 11.6l-11.6 11.6l-11.6 -11.6zM1377.1 756.1l11.6 11.6l-11.6 11.6l-11.6 -11.6zM1378.2 751.8l11.6 11.6l-11.6 11.6l-11.6 -11.6zM1379.2 749.1l11.6 11.6l-11.6 11.6l-11.6 -11.6zM1380.3 748.0l11.6 11.6l-11.6 11.6l-11.6 -11.6zM1381.3 751.2l11.6 11.6l-11.6 11.6l-11.6 -11.6zM1382.3 751.4l11.6 11.6l-11.6 11.6l-11.6 -11.6zM1383.4 753.6l11.6 11.6l-11.6 11.6l-11.6 -11.6zM1384.4 762.7l11.6 11.6l-11.6 11.6l-11.6 -11.6zM1385.5 764.3l11.6 11.6l-11.6 11.6l-11.6 -11.6zM1386.5 766.6l11.6 11.6l-11.6 11.6l-11.6 -11.6zM1387.6 764.9l11.6 11.6l-11.6 11.6l-11.6 -11.6zM1388.6 767.0l11.6 11.6l-11.6 11.6l-11.6 -11.6zM1389.6 773.8l11.6 11.6l-11.6 11.6l-11.6 -11.6zM1390.7 772.2l11.6 11.6l-11.6 11.6l-11.6 -11.6zM1391.7 777.8l11.6 11.6l-11.6 11.6l-11.6 -11.6zM1392.8 776.6l11.6 11.6l-11.6 11.6l-11.6 -11.6zM594.0 28.7l11.6 11.6l-11.6 11.6l-11.6 -11.6zM595.3 60.9l11.6 11.6l-11.6 11.6l-11.6 -11.6zM595.9 200.6l11.6 11.6l-11.6 11.6l-11.6 -11.6zM612.1 214.8l11.6 11.6l-11.6 11.6l-11.6 -11.6zM593.1 243.6l11.6 11.6l-11.6 11.6l-11.6 -11.6zM589.3 253.8l11.6 11.6l-11.6 11.6l-11.6 -11.6zM591.4 256.8l11.6 11.6l-11.6 11.6l-11.6 -11.6zM592.0 280.0l11.6 11.6l-11.6 11.6l-11.6 -11.6zM606.4 280.0l11.6 11.6l-11.6 11.6l-11.6 -11.6zM613.2 287.5l11.6 11.6l-11.6 11.6l-11.6 -11.6zM591.1 303.9l11.6 11.6l-11.6 11.6l-11.6 -11.6zM586.8 393.9l11.6 11.6l-11.6 11.6l-11.6 -11.6zM614.0 413.7l11.6 11.6l-11.6 11.6l-11.6 -11.6zM598.5 455.2l11.6 11.6l-11.6 11.6l-11.6 -11.6zM611.0 484.8l11.6 11.6l-11.6 11.6l-11.6 -11.6zM615.0 509.8l11.6 11.6l-11.6 11.6l-11.6 -11.6zM586.8 515.8l11.6 11.6l-11.6 11.6l-11.6 -11.6zM596.4 523.4l11.6 11.6l-11.6 11.6l-11.6 -11.6zM608.8 571.1l11.6 11.6l-11.6 11.6l-11.6 -11.6zM585.3 596.2l11.6 11.6l-11.6 11.6l-11.6 -11.6zM605.0 604.4l11.6 11.6l-11.6 11.6l-11.6 -11.6zM332.0 500.1l11.6 11.6l-11.6 11.6l-11.6 -11.6zM332.4 508.3l11.6 11.6l-11.6 11.6l-11.6 -11.6zM330.6 589.7l11.6 11.6l-11.6 11.6l-11.6 -11.6zM334.0 601.7l11.6 11.6l-11.6 11.6l-11.6 -11.6zM473.6 489.3l11.6 11.6l-11.6 11.6l-11.6 -11.6zM472.0 516.6l11.6 11.6l-11.6 11.6l-11.6 -11.6zM474.6 549.1l11.6 11.6l-11.6 11.6l-11.6 -11.6zM473.4 599.4l11.6 11.6l-11.6 11.6l-11.6 -11.6zM719.7 608.8l11.6 11.6l-11.6 11.6l-11.6 -11.6zM722.1 654.4l11.6 11.6l-11.6 11.6l-11.6 -11.6zM720.6 668.6l11.6 11.6l-11.6 11.6l-11.6 -11.6zM1321.3 653.1l11.6 11.6l-11.6 11.6l-11.6 -11.6zM1322.3 674.0l11.6 11.6l-11.6 11.6l-11.6 -11.6z" fill="#000" clip-path="url(#c)"/>
<polyline points="123.0,777.9 124.0,777.9 125.1,777.9 126.1,777.9 127.2,777.9 128.2,777.9 129.3,777.8 130.3,777.8 131.3,777.7 132.4,777.6 133.4,777.5 134.5,777.4 135.5,777.3 136.6,777.1 137.6,776.8 138.6,776.6 139.7,776.2 140.7,775.7 141.8,775.1 142.8,774.4 143.9,773.3 144.9,771.9 145.9,769.9 147.0,767.2 148.0,763.1 149.1,757.4 150.1,749.4 151.1,740.0 152.2,733.2 152.6,732.5 153.2,734.1 154.3,742.0 155.3,751.3 156.4,758.9 157.4,764.4 158.4,768.2 159.5,770.9 160.5,772.8 161.6,774.2 162.6,775.2 163.7,776.1 164.7,776.7 165.7,777.2 166.8,777.6 167.8,778.0 168.9,778.3 169.9,778.5 171.0,778.7 172.0,778.9 173.0,779.1 174.1,779.3 175.1,779.4 176.2,779.5 177.2,779.6 178.3,779.7 179.3,779.8 180.3,779.9 181.4,780.0 182.4,780.1 183.5,780.1 184.5,780.2 185.6,780.3 186.6,780.3 187.6,780.4 188.7,780.4 189.7,780.5 190.8,780.5 191.8,780.6 192.8,780.6 193.9,780.7 194.9,780.7 196.0,780.8 197.0,780.8 198.1,780.8 199.1,780.9 200.1,780.9 201.2,781.0 202.2,781.0 203.3,781.0 204.3,781.1 205.4,781.1 206.4,781.1 207.4,781.2 208.5,781.2 209.5,781.2 210.6,781.3 211.6,781.3 212.7,781.3 213.7,781.4 214.7,781.4 215.8,781.4 216.8,781.5 217.9,781.5 218.9,781.5 220.0,781.6 221.0,781.6 222.0,781.6 223.1,781.7 224.1,781.7 225.2,781.7 226.2,781.8 227.3,781.8 228.3,781.8 229.3,781.9 230.4,782.0 231.4,782.0 232.5,782.1 233.5,782.1 234.5,782.2 235.6,782.2 236.6,782.3 237.7,782.3 238.7,782.4 239.8,782.5 240.8,782.5 241.8,782.6 242.9,782.6 243.9,782.7 245.0,782.7 246.0,782.8 247.1,782.8 248.1,782.9 249.1,782.9 250.2,783.0 251.2,783.0 252.3,783.1 253.3,783.1 254.4,783.2 255.4,783.2 256.4,783.3 257.5,783.3 258.5,783.4 259.6,783.4 260.6,783.5 261.7,783.5 262.7,783.5 263.7,783.6 264.8,783.6 265.8,783.7 266.9,783.7 267.9,783.7 269.0,783.8 270.0,783.8 271.0,783.9 272.1,783.9 273.1,783.9 274.2,784.0 275.2,784.0 276.2,784.0 277.3,784.0 278.3,784.1 279.4,784.1 280.4,784.1 281.5,784.1 282.5,784.1 283.5,784.2 284.6,784.2 285.6,784.2 286.7,784.2 287.7,784.2 288.8,784.2 289.8,784.2 290.8,784.1 291.9,784.1 292.9,784.1 294.0,784.1 295.0,784.0 296.1,784.0 297.1,783.9 298.1,783.8 299.2,783.7 300.2,783.5 301.3,783.4 302.3,783.2 303.4,783.1 304.4,782.9 305.4,782.6 306.5,782.4 307.5,782.1 308.6,781.7 309.6,781.3 310.7,780.8 311.7,780.3 312.7,779.6 313.8,778.9 314.8,778.0 315.9,776.9 316.9,775.6 317.9,774.1 319.0,772.1 320.0,769.7 321.1,766.6 322.1,762.6 323.2,757.3 323.8,753.3 324.2,750.1 325.2,740.2 326.3,725.9 327.3,704.7 328.4,672.5 329.4,624.1 330.5,558.5 331.5,497.3 332.1,484.0 332.5,490.1 333.6,544.6 334.6,612.4 335.7,664.6 336.7,699.8 337.8,722.9 338.8,738.5 339.8,749.3 340.9,756.9 341.9,762.6 343.0,766.8 344.0,770.1 345.1,772.6 346.1,774.7 347.1,776.4 348.2,777.7 349.2,778.9 350.3,779.8 351.3,780.6 352.4,781.3 353.4,781.9 354.4,782.4 355.5,782.9 356.5,783.3 357.6,783.6 358.6,784.0 359.6,784.2 360.7,784.5 361.7,784.7 362.8,784.9 363.8,785.1 364.9,785.2 365.9,785.4 366.9,785.5 368.0,785.6 369.0,785.7 370.1,785.8 371.1,785.8 372.2,785.9 373.2,785.9 374.2,785.9 375.3,785.9 376.3,785.8 377.4,785.8 378.4,785.7 379.5,785.6 380.5,785.4 381.5,785.2 382.6,785.0 383.6,784.7 384.7,784.3 385.7,783.8 386.8,783.1 387.8,782.2 388.8,781.1 389.9,779.5 390.9,777.3 392.0,774.1 393.0,769.2 394.1,761.6 395.1,749.2 396.1,729.5 397.2,703.6 398.2,689.0 398.2,689.0 399.3,703.6 400.3,729.5 401.3,749.3 402.4,761.7 403.4,769.4 404.5,774.3 405.5,777.5 406.6,779.8 407.6,781.4 408.6,782.5 409.7,783.4 410.7,784.1 411.8,784.7 412.8,785.1 413.9,785.4 414.9,785.7 415.9,785.9 417.0,786.1 418.0,786.3 419.1,786.4 420.1,786.5 421.2,786.6 422.2,786.7 423.2,786.8 424.3,786.8 425.3,786.8 426.4,786.9 427.4,786.9 428.5,786.9 429.5,786.9 430.5,786.9 431.6,786.8 432.6,786.8 433.7,786.8 434.7,786.7 435.8,786.7 436.8,786.6 437.8,786.5 438.9,786.4 439.9,786.3 441.0,786.2 442.0,786.0 443.0,785.9 444.1,785.7 445.1,785.5 446.2,785.3 447.2,785.1 448.3,784.8 449.3,784.4 450.3,784.1 451.4,783.6 452.4,783.2 453.5,782.6 454.5,781.9 455.6,781.1 456.6,780.2 457.6,779.1 458.7,777.7 459.7,776.1 460.8,774.0 461.8,771.4 462.9,768.1 463.9,763.7 464.9,757.8 466.0,749.6 467.0,737.8 468.1,720.4 469.1,693.8 470.2,652.0 471.2,589.0 472.2,512.2 473.3,471.3 473.3,471.3 474.3,511.7 475.4,587.9 476.4,650.4 477.5,691.5 478.5,717.5 479.5,734.0 480.6,744.7 481.6,751.7 482.7,756.0 483.7,758.3 484.7,758.7 485.8,757.2 486.8,753.3 487.9,745.8 488.9,732.9 490.0,712.1 491.0,684.5 492.0,665.3 492.3,664.7 493.1,675.4 494.1,703.9 495.2,729.5 496.2,746.9 497.3,758.1 498.3,765.4 499.3,770.4 500.4,773.9 501.4,776.4 502.5,778.3 503.5,779.8 504.6,780.9 505.6,781.8 506.6,782.6 507.7,783.2 508.7,783.7 509.8,784.1 510.8,784.5 511.9,784.8 512.9,785.0 513.9,785.3 515.0,785.5 516.0,785.6 517.1,785.8 518.1,785.9 519.2,786.0 520.2,786.1 521.2,786.2 522.3,786.2 523.3,786.3 524.4,786.3 525.4,786.4 526.4,786.4 527.5,786.4 528.5,786.4 529.6,786.4 530.6,786.4 531.7,786.4 532.7,786.3 533.7,786.3 534.8,786.2 535.8,786.2 536.9,786.1 537.9,786.1 539.0,786.0 540.0,785.9 541.0,785.8 542.1,785.7 543.1,785.6 544.2,785.5 545.2,785.3 546.3,785.2 547.3,785.0 548.3,784.8 549.4,784.6 550.4,784.4 551.5,784.2 552.5,783.9 553.6,783.7 554.6,783.4 555.6,783.0 556.7,782.7 557.7,782.3 558.8,781.9 559.8,781.4 560.9,780.9 561.9,780.3 562.9,779.7 564.0,779.0 565.0,778.2 566.1,777.4 567.1,776.4 568.1,775.3 569.2,774.0 570.2,772.5 571.3,770.9 572.3,768.9 573.4,766.7 574.4,764.0 575.4,760.7 576.5,756.8 577.5,752.0 578.6,746.0 579.6,738.4 580.7,728.5 581.7,715.2 582.7,696.9 583.8,670.8 584.8,632.2 585.9,573.6 586.9,485.9 588.0,372.3 589.0,282.7 589.1,278.0 590.0,271.0 591.1,278.9 592.1,224.8 593.2,104.3 594.2,39.3 594.2,39.3 595.3,155.6 596.3,338.9 597.3,476.8 598.4,562.7 599.4,614.5 600.5,645.5 601.5,663.3 602.6,671.6 603.6,672.2 604.6,665.0 605.7,648.6 606.7,620.0 607.8,573.8 608.8,504.1 609.8,412.7 610.9,331.9 611.5,315.7 611.9,324.4 613.0,399.5 614.0,497.1 615.1,576.5 616.1,632.3 617.1,670.3 618.2,696.3 619.2,714.6 620.3,727.8 621.3,737.5 622.4,744.8 623.4,750.2 624.4,754.3 625.5,757.2 626.5,759.0 627.6,759.7 628.6,759.5 629.7,758.8 630.7,759.0 630.7,759.0 631.7,761.0 632.8,764.0 633.8,766.6 634.9,768.4 635.9,769.3 637.0,769.4 638.0,768.6 639.0,766.8 640.1,763.6 641.1,758.3 642.2,750.1 643.2,738.5 644.3,725.9 645.3,720.0 645.3,720.0 646.3,726.7 647.4,740.1 648.4,752.5 649.5,761.6 650.5,767.9 651.5,772.2 652.6,775.2 653.6,777.4 654.7,779.1 655.7,780.3 656.8,781.3 657.8,782.1 658.8,782.7 659.9,783.2 660.9,783.7 662.0,784.0 663.0,784.3 664.1,784.6 665.1,784.8 666.1,785.0 667.2,785.1 668.2,785.3 669.3,785.4 670.3,785.4 671.4,785.5 672.4,785.5 673.4,785.5 674.5,785.5 675.5,785.5 676.6,785.4 677.6,785.3 678.7,785.1 679.7,785.0 680.7,784.8 681.8,784.5 682.8,784.1 683.9,783.7 684.9,783.2 686.0,782.6 687.0,781.8 688.0,780.8 689.1,779.5 690.1,777.8 691.2,775.4 692.2,772.2 693.2,767.6 694.3,760.9 695.3,750.9 696.4,736.6 697.4,719.8 698.5,709.0 698.5,709.0 699.5,710.9 700.5,717.2 701.6,718.1 702.6,712.5 703.7,708.5 703.9,709.0 704.7,716.0 705.8,730.9 706.8,744.3 707.8,753.3 708.9,758.6 709.9,761.0 711.0,761.3 712.0,759.5 713.1,755.3 714.1,748.1 715.1,736.3 716.2,717.6 717.2,689.7 718.3,655.3 719.3,632.5 719.5,631.8 720.4,643.8 721.4,677.6 722.4,710.0 723.5,733.1 724.5,748.5 725.6,758.7 726.6,765.6 727.7,770.5 728.7,774.1 729.7,776.8 730.8,778.8 731.8,780.4 732.9,781.6 733.9,782.6 734.9,783.5 736.0,784.1 737.0,784.7 738.1,785.2 739.1,785.6 740.2,786.0 741.2,786.2 742.2,786.5 743.3,786.7 744.3,786.9 745.4,787.1 746.4,787.2 747.5,787.3 748.5,787.4 749.5,787.4 750.6,787.4 751.6,787.4 752.7,787.4 753.7,787.4 754.8,787.3 755.8,787.1 756.8,786.9 757.9,786.7 758.9,786.3 760.0,785.8 761.0,785.2 762.1,784.3 763.1,783.1 764.1,781.3 765.2,778.7 766.2,774.8 767.3,768.8 768.3,760.0 769.4,749.3 770.4,742.1 770.6,741.9 771.4,745.5 772.5,755.9 773.5,765.8 774.6,772.9 775.6,777.6 776.6,780.7 777.7,782.8 778.7,784.3 779.8,785.4 780.8,786.2 781.9,786.8 782.9,787.3 783.9,787.7 785.0,788.0 786.0,788.2 787.1,788.5 788.1,788.6 789.2,788.8 790.2,788.9 791.2,789.0 792.3,789.1 793.3,789.2 794.4,789.3 795.4,789.3 796.5,789.4 797.5,789.4 798.5,789.5 799.6,789.5 800.6,789.5 801.7,789.6 802.7,789.6 803.8,789.6 804.8,789.6 805.8,789.7 806.9,789.7 807.9,789.7 809.0,789.7 810.0,789.7 811.1,789.7 812.1,789.7 813.1,789.7 814.2,789.7 815.2,789.7 816.3,789.7 817.3,789.7 818.3,789.7 819.4,789.6 820.4,789.6 821.5,789.6 822.5,789.6 823.6,789.5 824.6,789.5 825.6,789.4 826.7,789.3 827.7,789.3 828.8,789.2 829.8,789.1 830.9,788.9 831.9,788.8 832.9,788.6 834.0,788.4 835.0,788.1 836.1,787.7 837.1,787.3 838.2,786.7 839.2,786.0 840.2,784.9 841.3,783.5 842.3,781.5 843.4,778.5 844.4,774.1 845.5,767.8 846.5,759.7 847.5,752.5 848.2,751.0 848.6,751.7 849.6,758.0 850.7,766.3 851.7,773.0 852.8,777.7 853.8,780.9 854.8,783.1 855.9,784.6 856.9,785.7 858.0,786.5 859.0,787.1 860.0,787.6 861.1,787.9 862.1,788.2 863.2,788.4 864.2,788.6 865.3,788.8 866.3,788.9 867.3,789.0 868.4,789.1 869.4,789.1 870.5,789.2 871.5,789.2 872.6,789.2 873.6,789.2 874.6,789.2 875.7,789.2 876.7,789.2 877.8,789.2 878.8,789.1 879.9,789.0 880.9,789.0 881.9,788.9 883.0,788.8 884.0,788.6 885.1,788.4 886.1,788.2 887.2,787.9 888.2,787.6 889.2,787.1 890.3,786.5 891.3,785.7 892.4,784.6 893.4,783.1 894.5,780.9 895.5,777.8 896.5,773.5 897.6,768.5 898.6,764.6 899.0,764.0 899.7,764.4 900.7,767.3 901.7,770.7 902.8,773.1 903.8,775.0 903.8,775.0 904.9,777.0 905.9,779.0 907.0,780.4 908.0,780.9 909.0,780.7 910.1,779.5 911.1,777.6 912.2,775.4 913.2,774.5 913.2,774.5 914.3,775.9 915.3,778.7 916.3,781.4 917.4,783.4 918.4,784.9 919.5,785.9 920.5,786.6 921.6,787.1 922.6,787.4 923.6,787.6 924.7,787.8 925.7,787.9 926.8,787.9 927.8,787.9 928.9,787.8 929.9,787.6 930.9,787.4 932.0,787.0 933.0,786.5 934.1,786.0 935.1,785.6 935.7,785.5 936.2,785.5 937.2,785.7 938.2,786.1 939.3,786.5 940.3,786.8 941.4,786.9 942.4,786.9 943.4,786.8 944.5,786.6 945.5,786.4 946.6,786.0 947.6,785.4 948.7,784.6 949.7,783.6 950.7,782.2 951.8,780.3 952.8,777.6 953.9,773.8 954.9,768.6 956.0,762.2 957.0,756.4 957.8,754.6 958.0,754.7 959.1,758.3 960.1,764.5 961.2,770.4 962.2,774.8 963.3,778.0 964.3,780.2 965.3,781.6 966.4,782.7 967.4,783.3 968.5,783.7 969.5,784.0 970.6,784.0 971.6,783.9 972.6,783.6 973.7,783.2 974.7,782.6 975.8,781.7 976.8,780.6 977.9,779.1 978.9,777.1 979.9,774.3 981.0,770.4 982.0,765.2 983.1,758.4 984.1,750.7 984.9,745.0 985.1,743.7 986.2,737.5 987.2,731.0 988.3,725.2 989.1,724.2 989.3,724.7 990.4,731.5 991.4,741.6 992.4,750.6 993.5,756.8 994.5,760.3 995.6,761.4 996.6,760.5 997.7,757.2 998.7,751.5 999.7,743.1 1000.8,733.2 1001.8,725.5 1002.5,724.2 1002.9,725.1 1003.9,732.7 1005.0,743.7 1006.0,753.8 1007.0,761.7 1008.1,767.4 1009.1,771.4 1010.2,774.3 1011.2,776.3 1012.3,777.7 1013.3,778.6 1014.3,779.0 1015.4,779.1 1016.4,778.9 1017.5,778.2 1018.5,777.0 1019.6,775.2 1020.6,772.6 1021.6,769.1 1022.7,764.8 1023.7,760.0 1023.7,760.0 1024.8,754.6 1025.8,747.9 1026.8,739.4 1027.9,731.2 1028.9,728.0 1028.9,728.0 1030.0,732.9 1031.0,743.0 1032.1,753.5 1033.1,762.1 1034.1,768.6 1035.2,773.2 1036.2,776.6 1037.3,779.1 1038.3,781.0 1039.4,782.5 1040.4,783.6 1041.4,784.5 1042.5,785.3 1043.5,785.8 1044.6,786.3 1045.6,786.7 1046.7,787.1 1047.7,787.4 1048.7,787.6 1049.8,787.8 1050.8,788.0 1051.9,788.2 1052.9,788.3 1054.0,788.4 1055.0,788.5 1056.0,788.5 1057.1,788.6 1058.1,788.6 1059.2,788.6 1060.2,788.6 1061.3,788.6 1062.3,788.5 1063.3,788.3 1064.4,788.1 1065.4,787.9 1066.5,787.5 1067.5,786.9 1068.5,786.2 1069.6,785.4 1070.6,784.7 1071.7,784.4 1071.7,784.4 1072.7,784.7 1073.8,785.4 1074.8,786.3 1075.8,787.0 1076.9,787.5 1077.9,787.9 1079.0,788.2 1080.0,788.5 1081.1,788.6 1082.1,788.7 1083.1,788.8 1084.2,788.8 1085.2,788.8 1086.3,788.8 1087.3,788.8 1088.4,788.7 1089.4,788.6 1090.4,788.5 1091.5,788.4 1092.5,788.2 1093.6,788.0 1094.6,787.8 1095.7,787.5 1096.7,787.1 1097.7,786.7 1098.8,786.1 1099.8,785.4 1100.9,784.4 1101.9,783.2 1103.0,781.5 1104.0,779.3 1105.0,776.3 1106.1,772.3 1107.1,767.2 1108.2,761.6 1109.2,757.4 1109.8,756.5 1110.2,756.8 1111.3,760.2 1112.3,765.5 1113.4,770.6 1114.4,774.6 1115.5,777.5 1116.5,779.5 1117.5,780.9 1118.6,781.7 1119.6,782.2 1120.7,782.3 1121.7,782.1 1122.8,781.5 1123.8,780.4 1124.8,778.9 1125.9,776.6 1126.9,773.4 1128.0,769.0 1129.0,763.7 1130.1,758.5 1131.1,755.6 1131.3,755.5 1132.1,756.9 1133.2,761.6 1134.2,767.2 1135.3,772.1 1136.3,775.9 1137.4,778.7 1138.4,780.6 1139.4,782.1 1140.5,783.1 1141.5,783.8 1142.6,784.3 1143.6,784.6 1144.7,784.8 1145.7,784.8 1146.7,784.6 1147.8,784.4 1148.8,783.9 1149.9,783.3 1150.9,782.4 1151.9,781.2 1153.0,779.5 1154.0,777.3 1155.1,774.3 1156.1,770.4 1156.1,770.4 1157.2,765.4 1158.2,759.5 1159.2,753.9 1160.3,750.9 1160.5,750.8 1161.3,752.3 1162.4,757.2 1163.4,763.2 1164.5,768.6 1165.5,772.9 1166.5,776.1 1167.6,778.5 1168.6,780.1 1169.7,781.4 1170.7,782.2 1171.8,782.8 1172.8,783.1 1173.8,783.3 1174.9,783.3 1175.9,783.2 1177.0,782.9 1178.0,782.4 1179.1,781.8 1180.1,780.9 1181.1,779.7 1182.2,778.2 1183.2,776.3 1184.3,773.7 1185.3,770.3 1186.4,765.8 1187.4,759.7 1188.4,751.5 1189.5,740.6 1190.5,727.2 1191.6,713.1 1192.6,702.7 1193.2,700.8 1193.6,701.7 1194.7,710.6 1195.7,724.5 1196.8,738.4 1197.8,749.8 1198.9,758.6 1199.9,765.2 1200.9,770.1 1202.0,773.8 1203.0,776.7 1204.1,778.9 1205.1,780.6 1206.2,782.0 1207.2,783.1 1208.2,784.0 1209.3,784.8 1210.3,785.4 1211.4,785.9 1212.4,786.4 1213.5,786.7 1214.5,787.1 1215.5,787.4 1216.6,787.6 1217.6,787.8 1218.7,788.0 1219.7,788.2 1220.8,788.3 1221.8,788.4 1222.8,788.5 1223.9,788.6 1224.9,788.7 1226.0,788.7 1227.0,788.8 1228.1,788.8 1229.1,788.8 1230.1,788.8 1231.2,788.8 1232.2,788.7 1233.3,788.6 1234.3,788.5 1235.3,788.4 1236.4,788.2 1237.4,787.9 1238.5,787.6 1239.5,787.3 1240.6,787.1 1241.4,787.0 1241.6,787.0 1242.6,787.1 1243.7,787.3 1244.7,787.5 1245.8,787.8 1246.8,787.9 1247.9,788.0 1248.9,788.0 1249.9,787.9 1251.0,787.8 1252.0,787.7 1253.1,787.6 1254.1,787.5 1254.1,787.5 1255.2,787.5 1256.2,787.6 1257.2,787.8 1258.3,787.9 1259.3,788.0 1260.4,788.0 1261.4,788.0 1262.5,787.9 1263.5,787.7 1264.5,787.6 1265.6,787.3 1266.6,787.0 1267.7,786.6 1268.7,786.1 1269.8,785.5 1270.8,784.8 1271.8,784.0 1272.9,783.4 1273.9,783.0 1273.9,783.0 1275.0,782.9 1276.0,783.1 1277.0,783.4 1278.1,783.6 1279.1,783.6 1280.2,783.5 1281.2,783.1 1282.3,782.6 1283.3,781.8 1284.3,780.6 1285.4,779.1 1286.4,777.1 1287.5,774.4 1288.5,770.8 1289.6,766.1 1290.6,760.2 1291.6,753.3 1292.7,747.0 1293.7,743.6 1293.9,743.5 1294.8,744.9 1295.8,750.1 1296.9,756.7 1297.9,762.9 1298.9,767.8 1300.0,771.5 1301.0,774.2 1302.1,776.1 1303.1,777.5 1304.2,778.3 1305.2,778.8 1306.2,779.0 1307.3,778.9 1308.3,778.5 1309.4,777.8 1310.4,776.7 1311.5,775.3 1312.5,773.3 1313.5,770.7 1314.6,767.2 1315.6,762.5 1316.7,756.2 1317.7,747.9 1318.7,737.2 1319.8,724.9 1320.8,713.7 1321.9,708.3 1321.9,708.3 1322.9,711.0 1324.0,719.2 1325.0,728.2 1326.0,734.9 1327.1,738.4 1328.1,738.4 1329.2,735.2 1330.2,728.9 1331.3,720.7 1332.3,713.4 1333.3,711.2 1333.3,711.2 1334.4,716.1 1335.4,726.2 1336.5,737.7 1337.5,747.9 1338.6,756.1 1339.6,762.4 1340.6,767.1 1341.7,770.7 1342.7,773.5 1343.8,775.5 1344.8,777.1 1345.9,778.2 1346.9,779.0 1347.9,779.5 1349.0,779.7 1350.0,779.6 1351.1,779.2 1352.1,778.3 1353.2,777.1 1354.2,775.4 1355.2,773.4 1356.3,771.7 1357.3,771.0 1357.3,771.0 1358.4,771.6 1359.4,773.1 1360.4,774.9 1361.5,776.5 1362.5,778.0 1362.5,778.0 1363.6,779.3 1364.6,780.4 1365.7,781.4 1366.7,782.0 1367.7,782.4 1368.8,782.5 1369.8,782.4 1370.9,782.0 1371.9,781.2 1373.0,780.1 1374.0,778.4 1375.0,776.2 1376.1,773.1 1377.1,769.2 1378.2,764.8 1379.2,761.1 1380.3,759.6 1380.3,759.6 1381.3,761.3 1382.3,765.2 1383.4,769.8 1384.4,774.0 1385.5,777.3 1386.5,779.9 1387.6,781.8 1388.6,783.3 1389.6,784.5 1390.7,785.4 1391.7,786.1 1392.8,786.6" fill="none" stroke="#00009c" stroke-width="3.6" stroke-linejoin="round"/>
<polyline points="123.0,792.4 124.0,794.6 125.1,796.6 126.1,793.2 127.2,794.5 128.2,794.2 129.3,794.7 130.3,793.3 131.3,793.2 132.4,795.7 133.4,794.0 134.5,796.8 135.5,796.8 136.6,795.0 137.6,796.8 138.6,796.7 139.7,796.7 140.7,799.2 141.8,797.7 142.8,798.4 143.9,795.1 144.9,800.1 145.9,797.3 147.0,799.9 148.0,804.2 149.1,805.7 150.1,804.0 151.1,805.6 152.2,811.8 153.2,811.5 154.3,810.4 155.3,804.8 156.4,806.9 157.4,806.5 158.4,800.7 159.5,801.5 160.5,801.3 161.6,803.5 162.6,798.6 163.7,802.1 164.7,801.1 165.7,800.2 166.8,802.7 167.8,798.2 168.9,799.2 169.9,800.2 171.0,802.7 172.0,801.0 173.0,800.2 174.1,802.4 175.1,800.8 176.2,800.5 177.2,801.1 178.3,802.2 179.3,806.2 180.3,799.8 181.4,802.1 182.4,801.4 183.5,801.2 184.5,804.3 185.6,803.0 186.6,802.8 187.6,800.9 188.7,800.3 189.7,802.2 190.8,801.2 191.8,800.8 192.8,802.9 193.9,799.7 194.9,800.5 196.0,803.1 197.0,801.6 198.1,802.9 199.1,800.3 200.1,803.0 201.2,800.6 202.2,804.1 203.3,803.2 204.3,802.6 205.4,804.4 206.4,802.4 207.4,800.8 208.5,804.5 209.5,802.4 210.6,803.9 211.6,802.1 212.7,803.8 213.7,800.4 214.7,799.7 215.8,799.5 216.8,803.2 217.9,798.6 218.9,798.9 220.0,799.5 221.0,802.3 222.0,802.7 223.1,800.5 224.1,803.3 225.2,802.5 226.2,804.0 227.3,803.5 228.3,800.8 229.3,802.3 230.4,801.7 231.4,802.7 232.5,802.3 233.5,802.0 234.5,803.2 235.6,802.1 236.6,803.2 237.7,802.0 238.7,801.7 239.8,803.5 240.8,803.6 241.8,804.1 242.9,803.1 243.9,801.6 245.0,802.3 246.0,802.3 247.1,799.0 248.1,800.1 249.1,804.6 250.2,801.9 251.2,797.2 252.3,801.8 253.3,802.3 254.4,799.9 255.4,805.9 256.4,803.9 257.5,803.4 258.5,801.7 259.6,802.9 260.6,803.5 261.7,802.9 262.7,800.9 263.7,802.4 264.8,802.3 265.8,802.5 266.9,800.3 267.9,802.5 269.0,802.1 270.0,802.5 271.0,802.4 272.1,799.6 273.1,803.5 274.2,803.3 275.2,799.8 276.2,801.9 277.3,800.6 278.3,801.3 279.4,803.8 280.4,803.0 281.5,805.4 282.5,802.2 283.5,800.2 284.6,802.3 285.6,797.9 286.7,805.1 287.7,802.5 288.8,802.8 289.8,802.3 290.8,800.6 291.9,801.8 292.9,800.7 294.0,801.2 295.0,802.6 296.1,800.0 297.1,804.8 298.1,800.2 299.2,803.4 300.2,800.9 301.3,799.9 302.3,802.7 303.4,802.3 304.4,801.6 305.4,801.9 306.5,800.9 307.5,802.7 308.6,801.2 309.6,802.0 310.7,803.9 311.7,799.7 312.7,801.0 313.8,800.8 314.8,800.6 315.9,799.7 316.9,801.5 317.9,802.2 319.0,801.8 320.0,799.3 321.1,803.1 322.1,803.2 323.2,802.2 324.2,801.1 325.2,803.2 326.3,811.2 327.3,813.5 328.4,812.5 329.4,811.1 330.5,817.2 331.5,818.6 332.5,823.4 333.6,819.8 334.6,819.5 335.7,814.8 336.7,812.4 337.8,806.5 338.8,806.5 339.8,802.7 340.9,801.0 341.9,803.1 343.0,802.4 344.0,798.3 345.1,801.8 346.1,802.1 347.1,802.2 348.2,805.3 349.2,800.8 350.3,801.8 351.3,799.0 352.4,799.4 353.4,800.9 354.4,801.6 355.5,801.5 356.5,802.9 357.6,803.1 358.6,803.5 359.6,801.5 360.7,802.6 361.7,800.6 362.8,802.4 363.8,802.6 364.9,800.9 365.9,796.3 366.9,800.7 368.0,806.1 369.0,801.6 370.1,800.7 371.1,801.9 372.2,803.6 373.2,802.3 374.2,801.4 375.3,799.5 376.3,801.2 377.4,799.7 378.4,802.3 379.5,804.2 380.5,803.4 381.5,800.6 382.6,799.9 383.6,799.2 384.7,802.3 385.7,802.5 386.8,802.9 387.8,802.1 388.8,799.5 389.9,798.2 390.9,803.4 392.0,800.0 393.0,804.6 394.1,797.9 395.1,800.3 396.1,803.0 397.2,810.3 398.2,815.8 399.3,813.0 400.3,809.5 401.3,801.5 402.4,800.7 403.4,798.9 404.5,799.9 405.5,799.7 406.6,801.1 407.6,806.3 408.6,798.0 409.7,799.8 410.7,801.1 411.8,799.7 412.8,801.7 413.9,797.1 414.9,799.6 415.9,796.2 417.0,798.0 418.0,795.7 419.1,794.3 420.1,790.8 421.2,786.4 422.2,785.3 423.2,786.8 424.3,784.9 425.3,788.0 426.4,786.8 427.4,792.5 428.5,795.1 429.5,791.3 430.5,796.9 431.6,800.6 432.6,796.8 433.7,800.4 434.7,799.2 435.8,800.9 436.8,799.1 437.8,798.7 438.9,799.5 439.9,799.7 441.0,799.5 442.0,799.1 443.0,802.6 444.1,799.8 445.1,798.8 446.2,799.3 447.2,801.8 448.3,797.2 449.3,801.9 450.3,802.3 451.4,803.3 452.4,800.4 453.5,799.8 454.5,801.5 455.6,801.4 456.6,803.4 457.6,801.3 458.7,800.5 459.7,799.0 460.8,800.9 461.8,801.4 462.9,803.3 463.9,801.5 464.9,803.6 466.0,803.4 467.0,800.2 468.1,800.0 469.1,802.1 470.2,805.5 471.2,809.1 472.2,817.4 473.3,822.4 474.3,825.4 475.4,821.7 476.4,815.5 477.5,811.1 478.5,804.4 479.5,803.5 480.6,800.7 481.6,803.4 482.7,796.8 483.7,802.7 484.7,802.8 485.8,801.2 486.8,801.9 487.9,801.6 488.9,803.5 490.0,804.1 491.0,801.3 492.0,804.0 493.1,800.1 494.1,801.9 495.2,802.0 496.2,799.1 497.3,801.8 498.3,800.1 499.3,802.4 500.4,799.5 501.4,797.9 502.5,798.6 503.5,800.7 504.6,801.1 505.6,801.1 506.6,799.1 507.7,801.7 508.7,799.3 509.8,799.7 510.8,801.7 511.9,799.6 512.9,796.6 513.9,800.9 515.0,799.6 516.0,798.8 517.1,801.5 518.1,798.1 519.2,800.2 520.2,799.2 521.2,803.3 522.3,795.7 523.3,798.9 524.4,799.0 525.4,800.2 526.4,797.4 527.5,796.9 528.5,800.2 529.6,796.9 530.6,797.9 531.7,797.2 532.7,797.7 533.7,794.5 534.8,795.6 535.8,796.1 536.9,796.1 537.9,797.4 539.0,796.0 540.0,795.7 541.0,794.1 542.1,795.8 543.1,791.9 544.2,792.0 545.2,788.6 546.3,788.1 547.3,789.8 548.3,786.4 549.4,781.1 550.4,781.7 551.5,778.7 552.5,774.9 553.6,775.9 554.6,774.7 555.6,776.4 556.7,780.1 557.7,780.1 558.8,785.5 559.8,785.4 560.9,787.4 561.9,791.5 562.9,791.3 564.0,791.0 565.0,792.3 566.1,793.5 567.1,791.2 568.1,795.3 569.2,794.5 570.2,792.6 571.3,793.5 572.3,796.8 573.4,793.4 574.4,799.4 575.4,794.1 576.5,796.5 577.5,791.9 578.6,796.3 579.6,795.6 580.7,797.4 581.7,797.0 582.7,796.2 583.8,800.5 584.8,798.3 585.9,798.2 586.9,811.6 588.0,802.8 589.0,791.2 590.0,792.7 591.1,807.4 592.1,817.4 593.2,830.5 594.2,816.5 595.3,795.5 596.3,797.7 597.3,807.3 598.4,808.9 599.4,811.0 600.5,802.1 601.5,799.5 602.6,797.4 603.6,787.6 604.6,783.3 605.7,794.8 606.7,797.3 607.8,799.9 608.8,805.3 609.8,801.0 610.9,778.5 611.9,753.5 613.0,780.4 614.0,796.0 615.1,801.4 616.1,818.8 617.1,817.2 618.2,806.4 619.2,794.7 620.3,797.3 621.3,796.7 622.4,798.7 623.4,796.7 624.4,798.5 625.5,800.0 626.5,797.0 627.6,798.2 628.6,801.3 629.7,802.1 630.7,802.3 631.7,806.9 632.8,798.3 633.8,799.1 634.9,797.9 635.9,797.8 637.0,797.4 638.0,799.7 639.0,797.4 640.1,796.6 641.1,798.3 642.2,801.7 643.2,803.4 644.3,809.9 645.3,803.1 646.3,801.5 647.4,801.4 648.4,799.5 649.5,799.9 650.5,798.2 651.5,797.9 652.6,795.8 653.6,798.7 654.7,798.2 655.7,795.1 656.8,799.6 657.8,801.7 658.8,799.9 659.9,801.2 660.9,798.8 662.0,797.5 663.0,799.4 664.1,798.7 665.1,797.4 666.1,801.1 667.2,799.7 668.2,798.3 669.3,799.8 670.3,799.2 671.4,800.6 672.4,802.3 673.4,798.5 674.5,797.6 675.5,802.0 676.6,803.7 677.6,798.6 678.7,798.2 679.7,797.7 680.7,799.7 681.8,800.0 682.8,799.4 683.9,801.3 684.9,798.5 686.0,798.9 687.0,797.8 688.0,802.3 689.1,801.8 690.1,802.2 691.2,798.6 692.2,802.3 693.2,800.6 694.3,801.3 695.3,801.1 696.4,799.6 697.4,799.9 698.5,798.0 699.5,802.3 700.5,805.9 701.6,801.3 702.6,800.9 703.7,802.5 704.7,799.5 705.8,798.8 706.8,799.0 707.8,800.8 708.9,803.4 709.9,800.8 711.0,800.6 712.0,798.4 713.1,801.1 714.1,801.7 715.1,799.9 716.2,800.6 717.2,799.5 718.3,800.8 719.3,796.2 720.4,796.3 721.4,805.0 722.4,808.9 723.5,803.7 724.5,800.0 725.6,800.2 726.6,801.1 727.7,800.9 728.7,802.7 729.7,802.2 730.8,803.5 731.8,802.4 732.9,800.7 733.9,801.3 734.9,798.4 736.0,804.0 737.0,800.2 738.1,800.5 739.1,804.3 740.2,799.4 741.2,800.2 742.2,801.2 743.3,800.3 744.3,801.5 745.4,801.8 746.4,802.5 747.5,801.2 748.5,802.6 749.5,800.9 750.6,802.5 751.6,803.4 752.7,798.5 753.7,801.1 754.8,801.8 755.8,798.3 756.8,796.3 757.9,802.0 758.9,800.4 760.0,802.8 761.0,801.4 762.1,801.4 763.1,800.9 764.1,801.6 765.2,799.9 766.2,800.6 767.3,802.8 768.3,801.2 769.4,803.8 770.4,806.2 771.4,807.9 772.5,804.6 773.5,804.4 774.6,800.3 775.6,802.1 776.6,798.8 777.7,801.9 778.7,802.1 779.8,800.4 780.8,798.7 781.9,801.2 782.9,801.6 783.9,800.6 785.0,800.3 786.0,803.0 787.1,801.3 788.1,800.8 789.2,802.9 790.2,801.4 791.2,800.3 792.3,802.9 793.3,800.9 794.4,803.0 795.4,800.3 796.5,802.0 797.5,803.6 798.5,802.2 799.6,802.3 800.6,802.2 801.7,802.9 802.7,801.6 803.8,802.2 804.8,801.1 805.8,804.7 806.9,800.0 807.9,802.9 809.0,799.8 810.0,802.4 811.1,803.7 812.1,799.6 813.1,804.4 814.2,799.9 815.2,800.1 816.3,802.0 817.3,799.6 818.3,803.1 819.4,802.3 820.4,796.9 821.5,799.1 822.5,800.3 823.6,802.2 824.6,799.7 825.6,800.3 826.7,802.5 827.7,799.8 828.8,802.0 829.8,799.2 830.9,803.1 831.9,803.8 832.9,799.5 834.0,797.5 835.0,798.6 836.1,803.1 837.1,800.5 838.2,803.2 839.2,799.2 840.2,799.9 841.3,801.2 842.3,803.2 843.4,801.1 844.4,799.7 845.5,801.9 846.5,801.6 847.5,802.3 848.6,801.1 849.6,800.4 850.7,801.5 851.7,797.3 852.8,801.9 853.8,803.5 854.8,802.4 855.9,799.8 856.9,798.9 858.0,803.7 859.0,800.6 860.0,801.1 861.1,801.8 862.1,800.4 863.2,801.5 864.2,804.0 865.3,800.6 866.3,804.7 867.3,802.1 868.4,802.0 869.4,803.0 870.5,803.0 871.5,803.2 872.6,802.4 873.6,800.5 874.6,804.2 875.7,801.2 876.7,800.0 877.8,803.0 878.8,802.5 879.9,801.4 880.9,801.6 881.9,802.4 883.0,804.7 884.0,801.3 885.1,799.3 886.1,800.5 887.2,802.3 888.2,801.1 889.2,800.3 890.3,802.7 891.3,802.7 892.4,801.1 893.4,801.9 894.5,800.4 895.5,800.4 896.5,800.9 897.6,799.2 898.6,802.0 899.7,801.3 900.7,800.6 901.7,801.6 902.8,801.7 903.8,800.2 904.9,800.4 905.9,800.1 907.0,803.7 908.0,798.6 909.0,801.3 910.1,802.8 911.1,799.6 912.2,799.8 913.2,799.7 914.3,798.4 915.3,803.3 916.3,800.9 917.4,799.5 918.4,800.2 919.5,801.6 920.5,800.7 921.6,799.8 922.6,802.1 923.6,799.8 924.7,800.6 925.7,801.5 926.8,800.0 927.8,801.4 928.9,800.2 929.9,805.7 930.9,800.5 932.0,802.4 933.0,799.8 934.1,799.3 935.1,801.0 936.2,800.6 937.2,800.6 938.2,801.2 939.3,802.7 940.3,804.4 941.4,804.6 942.4,801.3 943.4,804.3 944.5,804.0 945.5,800.1 946.6,800.4 947.6,801.0 948.7,804.5 949.7,800.9 950.7,800.7 951.8,803.5 952.8,800.8 953.9,800.9 954.9,802.1 956.0,801.4 957.0,797.1 958.0,799.0 959.1,802.3 960.1,798.7 961.2,803.2 962.2,801.0 963.3,801.5 964.3,801.6 965.3,798.1 966.4,799.9 967.4,799.3 968.5,801.5 969.5,803.6 970.6,800.7 971.6,801.2 972.6,797.8 973.7,800.4 974.7,800.7 975.8,800.8 976.8,802.1 977.9,803.4 978.9,801.0 979.9,801.7 981.0,798.4 982.0,802.0 983.1,800.0 984.1,791.3 985.1,787.1 986.2,788.8 987.2,799.7 988.3,801.6 989.3,802.2 990.4,808.6 991.4,806.2 992.4,802.1 993.5,801.2 994.5,801.2 995.6,799.6 996.6,802.0 997.7,801.8 998.7,800.2 999.7,798.4 1000.8,803.0 1001.8,802.1 1002.9,796.6 1003.9,791.8 1005.0,797.0 1006.0,800.0 1007.0,803.7 1008.1,800.9 1009.1,799.7 1010.2,801.2 1011.2,800.6 1012.3,802.0 1013.3,804.2 1014.3,801.9 1015.4,803.0 1016.4,804.8 1017.5,804.2 1018.5,801.4 1019.6,800.1 1020.6,804.8 1021.6,799.4 1022.7,798.1 1023.7,797.8 1024.8,803.2 1025.8,798.9 1026.8,801.7 1027.9,804.2 1028.9,810.3 1030.0,807.9 1031.0,808.4 1032.1,805.1 1033.1,804.6 1034.1,801.0 1035.2,801.7 1036.2,800.7 1037.3,803.0 1038.3,802.8 1039.4,800.5 1040.4,802.1 1041.4,798.7 1042.5,801.3 1043.5,799.7 1044.6,800.5 1045.6,802.9 1046.7,804.8 1047.7,801.5 1048.7,801.0 1049.8,800.6 1050.8,802.5 1051.9,800.9 1052.9,802.9 1054.0,803.8 1055.0,802.3 1056.0,800.5 1057.1,802.5 1058.1,800.0 1059.2,798.2 1060.2,803.1 1061.3,804.4 1062.3,803.4 1063.3,800.6 1064.4,795.4 1065.4,799.9 1066.5,802.2 1067.5,800.5 1068.5,803.5 1069.6,799.8 1070.6,802.0 1071.7,801.5 1072.7,801.6 1073.8,798.7 1074.8,801.0 1075.8,801.6 1076.9,800.4 1077.9,798.9 1079.0,800.3 1080.0,799.5 1081.1,801.7 1082.1,802.7 1083.1,801.6 1084.2,801.7 1085.2,800.8 1086.3,801.4 1087.3,797.8 1088.4,801.2 1089.4,802.6 1090.4,800.2 1091.5,802.2 1092.5,798.5 1093.6,801.1 1094.6,800.7 1095.7,801.8 1096.7,801.3 1097.7,804.8 1098.8,795.6 1099.8,798.6 1100.9,799.9 1101.9,801.2 1103.0,799.9 1104.0,799.9 1105.0,798.3 1106.1,798.7 1107.1,799.5 1108.2,803.6 1109.2,799.6 1110.2,805.7 1111.3,802.8 1112.3,800.5 1113.4,802.4 1114.4,802.7 1115.5,798.9 1116.5,798.2 1117.5,803.5 1118.6,799.3 1119.6,802.5 1120.7,802.1 1121.7,798.1 1122.8,802.1 1123.8,801.9 1124.8,803.2 1125.9,800.9 1126.9,801.7 1128.0,801.6 1129.0,800.6 1130.1,803.8 1131.1,802.6 1132.1,803.6 1133.2,801.6 1134.2,802.9 1135.3,799.3 1136.3,799.9 1137.4,802.7 1138.4,800.6 1139.4,800.3 1140.5,801.2 1141.5,798.2 1142.6,801.2 1143.6,801.8 1144.7,800.4 1145.7,799.0 1146.7,803.9 1147.8,801.6 1148.8,799.2 1149.9,799.9 1150.9,798.1 1151.9,797.9 1153.0,797.6 1154.0,799.5 1155.1,801.6 1156.1,802.2 1157.2,800.7 1158.2,802.6 1159.2,801.9 1160.3,798.9 1161.3,799.4 1162.4,801.4 1163.4,802.0 1164.5,802.7 1165.5,798.5 1166.5,797.6 1167.6,804.3 1168.6,800.4 1169.7,802.6 1170.7,800.9 1171.8,798.5 1172.8,803.3 1173.8,801.7 1174.9,803.4 1175.9,801.9 1177.0,799.2 1178.0,800.8 1179.1,802.6 1180.1,799.7 1181.1,801.2 1182.2,802.9 1183.2,798.8 1184.3,800.2 1185.3,801.2 1186.4,802.5 1187.4,800.7 1188.4,799.7 1189.5,801.8 1190.5,799.9 1191.6,802.2 1192.6,803.7 1193.6,805.2 1194.7,808.3 1195.7,807.6 1196.8,800.8 1197.8,802.4 1198.9,800.7 1199.9,800.4 1200.9,801.0 1202.0,802.9 1203.0,800.6 1204.1,800.3 1205.1,798.7 1206.2,800.6 1207.2,800.9 1208.2,799.2 1209.3,800.3 1210.3,801.7 1211.4,803.2 1212.4,800.4 1213.5,804.3 1214.5,802.6 1215.5,802.4 1216.6,801.9 1217.6,801.1 1218.7,799.8 1219.7,800.8 1220.8,801.0 1221.8,801.2 1222.8,803.5 1223.9,804.3 1224.9,801.8 1226.0,802.6 1227.0,799.7 1228.1,797.5 1229.1,800.7 1230.1,801.3 1231.2,803.3 1232.2,805.0 1233.3,801.4 1234.3,803.1 1235.3,802.8 1236.4,801.3 1237.4,802.3 1238.5,801.6 1239.5,803.6 1240.6,799.1 1241.6,797.0 1242.6,801.1 1243.7,802.5 1244.7,802.7 1245.8,800.0 1246.8,801.8 1247.9,799.8 1248.9,802.1 1249.9,799.6 1251.0,799.1 1252.0,802.5 1253.1,798.8 1254.1,798.4 1255.2,802.3 1256.2,801.1 1257.2,797.0 1258.3,802.9 1259.3,798.8 1260.4,800.1 1261.4,800.7 1262.5,804.3 1263.5,800.9 1264.5,802.4 1265.6,800.7 1266.6,801.8 1267.7,798.5 1268.7,800.9 1269.8,799.8 1270.8,799.2 1271.8,801.4 1272.9,802.6 1273.9,801.7 1275.0,800.3 1276.0,802.1 1277.0,799.0 1278.1,801.4 1279.1,801.7 1280.2,800.7 1281.2,800.4 1282.3,801.1 1283.3,799.9 1284.3,800.5 1285.4,802.1 1286.4,797.6 1287.5,803.0 1288.5,801.6 1289.6,801.2 1290.6,799.1 1291.6,800.1 1292.7,799.8 1293.7,802.1 1294.8,802.3 1295.8,804.4 1296.9,804.6 1297.9,802.4 1298.9,803.2 1300.0,802.2 1301.0,801.9 1302.1,798.3 1303.1,800.4 1304.2,800.7 1305.2,799.5 1306.2,800.0 1307.3,803.9 1308.3,799.6 1309.4,802.5 1310.4,798.9 1311.5,796.6 1312.5,798.0 1313.5,795.8 1314.6,795.9 1315.6,791.9 1316.7,796.4 1317.7,795.1 1318.7,798.5 1319.8,797.2 1320.8,791.9 1321.9,778.1 1322.9,790.5 1324.0,798.5 1325.0,798.7 1326.0,803.4 1327.1,800.2 1328.1,802.1 1329.2,803.1 1330.2,801.3 1331.3,801.7 1332.3,801.5 1333.3,802.3 1334.4,801.6 1335.4,801.6 1336.5,801.7 1337.5,803.4 1338.6,807.3 1339.6,806.6 1340.6,804.0 1341.7,803.4 1342.7,799.1 1343.8,799.6 1344.8,799.0 1345.9,800.5 1346.9,802.3 1347.9,800.0 1349.0,801.0 1350.0,796.4 1351.1,799.7 1352.1,800.1 1353.2,797.4 1354.2,794.7 1355.2,797.2 1356.3,795.5 1357.3,798.7 1358.4,795.1 1359.4,796.7 1360.4,797.4 1361.5,799.2 1362.5,796.6 1363.6,802.4 1364.6,801.5 1365.7,800.1 1366.7,799.9 1367.7,801.4 1368.8,801.2 1369.8,799.8 1370.9,800.3 1371.9,801.1 1373.0,799.8 1374.0,800.0 1375.0,799.8 1376.1,799.9 1377.1,798.4 1378.2,799.0 1379.2,801.2 1380.3,801.9 1381.3,800.4 1382.3,794.5 1383.4,798.0 1384.4,801.2 1385.5,803.4 1386.5,802.5 1387.6,800.2 1388.6,799.9 1389.6,799.8 1390.7,803.4 1391.7,800.9 1392.8,799.0" fill="none" stroke="#00ff00" stroke-width="3.2" stroke-linejoin="round"/>
<path d="M140.9 812V848.6M152.0 812V848.6M323.8 812V848.6M332.1 812V848.6M398.2 812V848.6M472.8 812V848.6M492.2 812V848.6M553.1 812V848.6M589.1 812V848.6M594.3 812V848.6M611.5 812V848.6M644.8 812V848.6M699.0 812V848.6M703.7 812V848.6M719.4 812V848.6M770.3 812V848.6M847.8 812V848.6M899.3 812V848.6M902.3 812V848.6M913.0 812V848.6M935.5 812V848.6M958.5 812V848.6M984.9 812V848.6M989.3 812V848.6M1002.5 812V848.6M1023.8 812V848.6M1029.1 812V848.6M1071.8 812V848.6M1109.8 812V848.6M1131.1 812V848.6M1156.0 812V848.6M1160.0 812V848.6M1193.2 812V848.6M1241.2 812V848.6M1253.9 812V848.6M1273.9 812V848.6M1294.1 812V848.6M1321.9 812V848.6M1333.4 812V848.6M1357.4 812V848.6M1362.5 812V848.6M1380.4 812V848.6" stroke="#000" stroke-width="3.6" fill="none"/>
<path d="M634.1 827V863.8M1054.7 827V863.8" stroke="#ff0000" stroke-width="3.4" fill="none"/>
<path d="M123.00 25v16.6M123.00 875v-16.6M227.25 25v9.9M227.25 875v-9.9M331.50 25v16.6M331.50 875v-16.6M435.75 25v9.9M435.75 875v-9.9M540.00 25v16.6M540.00 875v-16.6M644.25 25v9.9M644.25 875v-9.9M748.50 25v16.6M748.50 875v-16.6M852.75 25v9.9M852.75 875v-9.9M957.00 25v16.6M957.00 875v-16.6M1061.25 25v9.9M1061.25 875v-9.9M1165.50 25v16.6M1165.50 875v-16.6M1269.75 25v9.9M1269.75 875v-9.9M1374.00 25v16.6M1374.00 875v-16.6" stroke="#000" stroke-width="4" fill="none"/>
<path d="M101 23H1397V877H101zM104 27V873H1393V27z" fill="#000" fill-rule="evenodd"/>
<g font-size="38.5" fill="#000"><text x="123.0" y="920.6" text-anchor="middle">20</text><text x="331.5" y="920.6" text-anchor="middle">30</text><text x="540.0" y="920.6" text-anchor="middle">40</text><text x="748.5" y="920.6" text-anchor="middle">50</text><text x="957.0" y="920.6" text-anchor="middle">60</text><text x="1165.5" y="920.6" text-anchor="middle">70</text><text x="1374.0" y="920.6" text-anchor="middle">80</text></g>
<text x="526.5" y="993.2" font-size="61.3" textLength="445" lengthAdjust="spacingAndGlyphs" fill="#000">2-theta (degree)</text>
<text transform="translate(75.2,473.6) rotate(-90) scale(1,1.045)" font-size="61.4" text-anchor="middle" fill="#000">Intensity (a.u.)</text>
<path d="M939.5 78.6l11.5 11.5l-11.5 11.5l-11.5-11.5z" fill="#000"/>
<text transform="translate(992.8,106.1) scale(1.018,1.043)" font-size="61.4" fill="#000">SmFe<tspan font-size="59.5" dy="17.5">9</tspan><tspan font-size="61.4" dy="-17.5">Co</tspan><tspan font-size="59.5" dy="17.5">2</tspan><tspan font-size="61.4" dy="-17.5">Ti</tspan></text>
<path d="M884 170.8H994.8" stroke="#00009c" stroke-width="3.6"/>
<path d="M938.9 211.5V248.6" stroke="#000" stroke-width="3"/>
<path d="M938.9 269.5V306.4" stroke="#ff0000" stroke-width="3"/>
<path d="M884.5 345H994.5" stroke="#00ff00" stroke-width="3.4"/>
<g font-size="48.6" fill="#000"><text transform="translate(1004.5,187.8) scale(1.02,1.04)">Ifit</text><text transform="translate(1006.1,246.3) scale(0.96,1.04)">Bars-1</text><text transform="translate(1006.1,303.8) scale(0.995,1.04)">Bars-2</text><text transform="translate(1006.1,361.8) scale(1.003,1.04)">Difference</text></g>
</svg>
</body></html>
